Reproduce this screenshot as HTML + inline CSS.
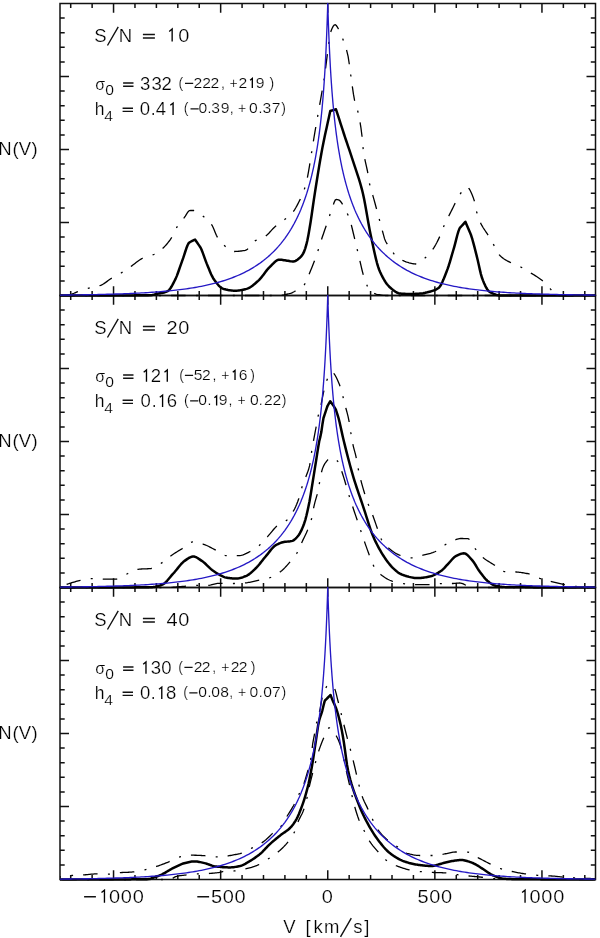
<!DOCTYPE html>
<html><head><meta charset="utf-8"><style>
html,body{margin:0;padding:0;background:#fff;width:600px;height:938px;overflow:hidden}
svg{display:block;will-change:transform}
text{font-family:"Liberation Sans",sans-serif;fill:#000;text-anchor:middle;stroke:#fff;stroke-width:0.2px;paint-order:fill}
</style></head><body>
<svg width="600" height="938" viewBox="0 0 600 938">

<rect x="60.0" y="3.5" width="535.5" height="292.0" fill="none" stroke="#111" stroke-width="1.5"/>
<path d="M70.71,3.5 v4.6 M70.71,295.5 v-4.6 M92.13,3.5 v4.6 M92.13,295.5 v-4.6 M113.55,3.5 v9.2 M113.55,295.5 v-9.2 M134.97,3.5 v4.6 M134.97,295.5 v-4.6 M156.39,3.5 v4.6 M156.39,295.5 v-4.6 M177.81,3.5 v4.6 M177.81,295.5 v-4.6 M199.23,3.5 v4.6 M199.23,295.5 v-4.6 M220.65,3.5 v9.2 M220.65,295.5 v-9.2 M242.07,3.5 v4.6 M242.07,295.5 v-4.6 M263.49,3.5 v4.6 M263.49,295.5 v-4.6 M284.91,3.5 v4.6 M284.91,295.5 v-4.6 M306.33,3.5 v4.6 M306.33,295.5 v-4.6 M327.75,3.5 v9.2 M327.75,295.5 v-9.2 M349.17,3.5 v4.6 M349.17,295.5 v-4.6 M370.59,3.5 v4.6 M370.59,295.5 v-4.6 M392.01,3.5 v4.6 M392.01,295.5 v-4.6 M413.43,3.5 v4.6 M413.43,295.5 v-4.6 M434.85,3.5 v9.2 M434.85,295.5 v-9.2 M456.27,3.5 v4.6 M456.27,295.5 v-4.6 M477.69,3.5 v4.6 M477.69,295.5 v-4.6 M499.11,3.5 v4.6 M499.11,295.5 v-4.6 M520.53,3.5 v4.6 M520.53,295.5 v-4.6 M541.95,3.5 v9.2 M541.95,295.5 v-9.2 M563.37,3.5 v4.6 M563.37,295.5 v-4.6 M584.79,3.5 v4.6 M584.79,295.5 v-4.6 M60.0,280.90 h4.7 M595.5,280.90 h-4.7 M60.0,266.30 h4.7 M595.5,266.30 h-4.7 M60.0,251.70 h4.7 M595.5,251.70 h-4.7 M60.0,237.10 h4.7 M595.5,237.10 h-4.7 M60.0,222.50 h9 M595.5,222.50 h-9 M60.0,207.90 h4.7 M595.5,207.90 h-4.7 M60.0,193.30 h4.7 M595.5,193.30 h-4.7 M60.0,178.70 h4.7 M595.5,178.70 h-4.7 M60.0,164.10 h4.7 M595.5,164.10 h-4.7 M60.0,149.50 h9 M595.5,149.50 h-9 M60.0,134.90 h4.7 M595.5,134.90 h-4.7 M60.0,120.30 h4.7 M595.5,120.30 h-4.7 M60.0,105.70 h4.7 M595.5,105.70 h-4.7 M60.0,91.10 h4.7 M595.5,91.10 h-4.7 M60.0,76.50 h9 M595.5,76.50 h-9 M60.0,61.90 h4.7 M595.5,61.90 h-4.7 M60.0,47.30 h4.7 M595.5,47.30 h-4.7 M60.0,32.70 h4.7 M595.5,32.70 h-4.7 M60.0,18.10 h4.7 M595.5,18.10 h-4.7" stroke="#111" stroke-width="1.5" fill="none"/>
<rect x="60.0" y="295.5" width="535.5" height="292.0" fill="none" stroke="#111" stroke-width="1.5"/>
<path d="M70.71,295.5 v4.6 M70.71,587.5 v-4.6 M92.13,295.5 v4.6 M92.13,587.5 v-4.6 M113.55,295.5 v9.2 M113.55,587.5 v-9.2 M134.97,295.5 v4.6 M134.97,587.5 v-4.6 M156.39,295.5 v4.6 M156.39,587.5 v-4.6 M177.81,295.5 v4.6 M177.81,587.5 v-4.6 M199.23,295.5 v4.6 M199.23,587.5 v-4.6 M220.65,295.5 v9.2 M220.65,587.5 v-9.2 M242.07,295.5 v4.6 M242.07,587.5 v-4.6 M263.49,295.5 v4.6 M263.49,587.5 v-4.6 M284.91,295.5 v4.6 M284.91,587.5 v-4.6 M306.33,295.5 v4.6 M306.33,587.5 v-4.6 M327.75,295.5 v9.2 M327.75,587.5 v-9.2 M349.17,295.5 v4.6 M349.17,587.5 v-4.6 M370.59,295.5 v4.6 M370.59,587.5 v-4.6 M392.01,295.5 v4.6 M392.01,587.5 v-4.6 M413.43,295.5 v4.6 M413.43,587.5 v-4.6 M434.85,295.5 v9.2 M434.85,587.5 v-9.2 M456.27,295.5 v4.6 M456.27,587.5 v-4.6 M477.69,295.5 v4.6 M477.69,587.5 v-4.6 M499.11,295.5 v4.6 M499.11,587.5 v-4.6 M520.53,295.5 v4.6 M520.53,587.5 v-4.6 M541.95,295.5 v9.2 M541.95,587.5 v-9.2 M563.37,295.5 v4.6 M563.37,587.5 v-4.6 M584.79,295.5 v4.6 M584.79,587.5 v-4.6 M60.0,572.90 h4.7 M595.5,572.90 h-4.7 M60.0,558.30 h4.7 M595.5,558.30 h-4.7 M60.0,543.70 h4.7 M595.5,543.70 h-4.7 M60.0,529.10 h4.7 M595.5,529.10 h-4.7 M60.0,514.50 h9 M595.5,514.50 h-9 M60.0,499.90 h4.7 M595.5,499.90 h-4.7 M60.0,485.30 h4.7 M595.5,485.30 h-4.7 M60.0,470.70 h4.7 M595.5,470.70 h-4.7 M60.0,456.10 h4.7 M595.5,456.10 h-4.7 M60.0,441.50 h9 M595.5,441.50 h-9 M60.0,426.90 h4.7 M595.5,426.90 h-4.7 M60.0,412.30 h4.7 M595.5,412.30 h-4.7 M60.0,397.70 h4.7 M595.5,397.70 h-4.7 M60.0,383.10 h4.7 M595.5,383.10 h-4.7 M60.0,368.50 h9 M595.5,368.50 h-9 M60.0,353.90 h4.7 M595.5,353.90 h-4.7 M60.0,339.30 h4.7 M595.5,339.30 h-4.7 M60.0,324.70 h4.7 M595.5,324.70 h-4.7 M60.0,310.10 h4.7 M595.5,310.10 h-4.7" stroke="#111" stroke-width="1.5" fill="none"/>
<rect x="60.0" y="587.5" width="535.5" height="292.0" fill="none" stroke="#111" stroke-width="1.5"/>
<path d="M70.71,587.5 v4.6 M70.71,879.5 v-4.6 M92.13,587.5 v4.6 M92.13,879.5 v-4.6 M113.55,587.5 v9.2 M113.55,879.5 v-9.2 M134.97,587.5 v4.6 M134.97,879.5 v-4.6 M156.39,587.5 v4.6 M156.39,879.5 v-4.6 M177.81,587.5 v4.6 M177.81,879.5 v-4.6 M199.23,587.5 v4.6 M199.23,879.5 v-4.6 M220.65,587.5 v9.2 M220.65,879.5 v-9.2 M242.07,587.5 v4.6 M242.07,879.5 v-4.6 M263.49,587.5 v4.6 M263.49,879.5 v-4.6 M284.91,587.5 v4.6 M284.91,879.5 v-4.6 M306.33,587.5 v4.6 M306.33,879.5 v-4.6 M327.75,587.5 v9.2 M327.75,879.5 v-9.2 M349.17,587.5 v4.6 M349.17,879.5 v-4.6 M370.59,587.5 v4.6 M370.59,879.5 v-4.6 M392.01,587.5 v4.6 M392.01,879.5 v-4.6 M413.43,587.5 v4.6 M413.43,879.5 v-4.6 M434.85,587.5 v9.2 M434.85,879.5 v-9.2 M456.27,587.5 v4.6 M456.27,879.5 v-4.6 M477.69,587.5 v4.6 M477.69,879.5 v-4.6 M499.11,587.5 v4.6 M499.11,879.5 v-4.6 M520.53,587.5 v4.6 M520.53,879.5 v-4.6 M541.95,587.5 v9.2 M541.95,879.5 v-9.2 M563.37,587.5 v4.6 M563.37,879.5 v-4.6 M584.79,587.5 v4.6 M584.79,879.5 v-4.6 M60.0,864.90 h4.7 M595.5,864.90 h-4.7 M60.0,850.30 h4.7 M595.5,850.30 h-4.7 M60.0,835.70 h4.7 M595.5,835.70 h-4.7 M60.0,821.10 h4.7 M595.5,821.10 h-4.7 M60.0,806.50 h9 M595.5,806.50 h-9 M60.0,791.90 h4.7 M595.5,791.90 h-4.7 M60.0,777.30 h4.7 M595.5,777.30 h-4.7 M60.0,762.70 h4.7 M595.5,762.70 h-4.7 M60.0,748.10 h4.7 M595.5,748.10 h-4.7 M60.0,733.50 h9 M595.5,733.50 h-9 M60.0,718.90 h4.7 M595.5,718.90 h-4.7 M60.0,704.30 h4.7 M595.5,704.30 h-4.7 M60.0,689.70 h4.7 M595.5,689.70 h-4.7 M60.0,675.10 h4.7 M595.5,675.10 h-4.7 M60.0,660.50 h9 M595.5,660.50 h-9 M60.0,645.90 h4.7 M595.5,645.90 h-4.7 M60.0,631.30 h4.7 M595.5,631.30 h-4.7 M60.0,616.70 h4.7 M595.5,616.70 h-4.7 M60.0,602.10 h4.7 M595.5,602.10 h-4.7" stroke="#111" stroke-width="1.5" fill="none"/>
<path d="M60.00,295.50 L61.07,295.48 L62.14,295.44 L63.21,295.37 L64.28,295.27 L65.36,295.16 L66.43,295.03 L67.50,294.88 L68.57,294.72 L69.64,294.56 L70.71,294.36 L71.78,294.07 L72.85,293.69 L73.92,293.26 L74.99,292.79 L76.06,292.32 L77.14,291.86 L78.21,291.44 L79.28,291.07 L80.35,290.72 L81.42,290.37 L82.49,290.03 L83.56,289.70 L84.63,289.37 L85.70,289.05 L86.78,288.74 L87.85,288.44 L88.92,288.15 L89.99,287.88 L91.06,287.63 L92.13,287.40 L93.20,287.19 L94.27,286.99 L95.34,286.78 L96.41,286.56 L97.48,286.31 L98.56,286.04 L99.63,285.72 L100.70,285.34 L101.77,284.86 L102.84,284.28 L103.91,283.62 L104.98,282.91 L106.05,282.15 L107.12,281.37 L108.19,280.59 L109.27,279.81 L110.34,279.06 L111.41,278.36 L112.48,277.72 L113.55,277.11 L114.62,276.51 L115.69,275.93 L116.76,275.35 L117.83,274.77 L118.91,274.18 L119.98,273.59 L121.05,272.97 L122.12,272.33 L123.19,271.66 L124.26,270.97 L125.33,270.27 L126.40,269.55 L127.47,268.82 L128.54,268.09 L129.62,267.35 L130.69,266.61 L131.76,265.87 L132.83,265.08 L133.90,264.26 L134.97,263.43 L136.04,262.59 L137.11,261.76 L138.18,260.95 L139.25,260.18 L140.32,259.47 L141.40,258.82 L142.47,258.25 L143.54,257.77 L144.61,257.36 L145.68,257.00 L146.75,256.69 L147.82,256.39 L148.89,256.10 L149.96,255.81 L151.03,255.50 L152.11,255.15 L153.18,254.75 L154.25,254.29 L155.32,253.75 L156.39,253.14 L157.46,252.47 L158.53,251.73 L159.60,250.94 L160.67,250.10 L161.75,249.22 L162.82,248.28 L163.89,247.26 L164.96,246.17 L166.03,244.99 L167.10,243.74 L168.17,242.41 L169.24,241.00 L170.31,239.51 L171.38,237.94 L172.46,236.25 L173.53,234.15 L174.60,231.81 L175.67,229.49 L176.74,227.43 L177.81,225.77 L178.88,224.27 L179.95,222.90 L181.02,221.59 L182.09,220.32 L183.16,219.04 L184.24,217.69 L185.31,216.07 L186.38,214.30 L187.45,212.62 L188.52,211.30 L189.59,210.57 L190.66,210.50 L191.73,210.50 L192.80,210.50 L193.88,210.50 L194.95,210.60 L196.02,210.93 L197.09,211.46 L198.16,212.15 L199.23,212.95 L200.30,213.82 L201.37,214.73 L202.44,215.64 L203.51,216.51 L204.58,217.35 L205.66,218.23 L206.73,219.15 L207.80,220.15 L208.87,221.23 L209.94,222.43 L211.01,223.76 L212.08,225.29 L213.15,227.43 L214.22,230.04 L215.30,232.78 L216.37,235.34 L217.44,237.40 L218.51,239.00 L219.58,240.47 L220.65,241.82 L221.72,243.04 L222.79,244.15 L223.86,245.16 L224.93,246.06 L226.00,246.98 L227.08,247.90 L228.15,248.79 L229.22,249.61 L230.29,250.33 L231.36,250.90 L232.43,251.30 L233.50,251.49 L234.57,251.49 L235.64,251.47 L236.72,251.42 L237.79,251.35 L238.86,251.26 L239.93,251.15 L241.00,251.02 L242.07,250.88 L243.14,250.72 L244.21,250.54 L245.28,250.34 L246.35,249.99 L247.43,249.23 L248.50,248.17 L249.57,246.90 L250.64,245.51 L251.71,244.13 L252.78,242.83 L253.85,241.73 L254.92,240.92 L255.99,240.32 L257.06,239.81 L258.13,239.36 L259.21,238.95 L260.28,238.56 L261.35,238.17 L262.42,237.75 L263.49,237.28 L264.56,236.73 L265.63,236.08 L266.70,235.26 L267.77,234.28 L268.85,233.19 L269.92,232.02 L270.99,230.82 L272.06,229.63 L273.13,228.49 L274.20,227.44 L275.27,226.52 L276.34,225.66 L277.41,224.85 L278.48,224.06 L279.56,223.29 L280.63,222.53 L281.70,221.75 L282.77,220.96 L283.84,220.13 L284.91,219.29 L285.98,218.47 L287.05,217.66 L288.12,216.83 L289.19,215.95 L290.26,214.99 L291.34,213.94 L292.41,212.76 L293.48,211.38 L294.55,209.79 L295.62,208.03 L296.69,206.13 L297.76,204.11 L298.83,202.03 L299.90,199.89 L300.98,197.65 L302.05,195.26 L303.12,192.64 L304.19,189.74 L305.26,186.45 L306.33,182.35 L307.40,177.52 L308.47,171.89 L309.54,165.54 L310.61,158.79 L311.69,151.97 L312.76,145.15 L313.83,138.49 L314.90,132.11 L315.97,125.87 L317.04,119.73 L318.11,113.67 L319.18,107.63 L320.25,101.57 L321.32,95.46 L322.39,89.39 L323.47,83.33 L324.54,76.32 L325.61,68.19 L326.68,59.61 L327.75,51.07 L328.82,42.88 L329.89,35.80 L330.96,31.26 L332.03,28.55 L333.11,26.40 L334.18,25.05 L335.25,24.73 L336.32,25.55 L337.39,27.14 L338.46,29.05 L339.53,30.97 L340.60,33.29 L341.67,35.96 L342.74,38.82 L343.81,41.70 L344.89,44.70 L345.96,48.02 L347.03,51.87 L348.10,56.47 L349.17,63.27 L350.24,71.41 L351.31,79.01 L352.38,86.84 L353.45,94.20 L354.52,100.11 L355.60,104.24 L356.67,107.54 L357.74,111.04 L358.81,115.63 L359.88,121.18 L360.95,127.84 L362.02,136.28 L363.09,148.28 L364.16,155.59 L365.24,161.11 L366.31,165.87 L367.38,170.75 L368.45,176.70 L369.52,183.53 L370.59,188.35 L371.66,191.82 L372.73,195.09 L373.80,198.84 L374.87,202.74 L375.94,206.73 L377.02,210.78 L378.09,214.84 L379.16,218.87 L380.23,222.85 L381.30,226.80 L382.37,230.73 L383.44,234.66 L384.51,238.63 L385.58,241.27 L386.65,243.22 L387.73,244.84 L388.80,246.31 L389.87,247.80 L390.94,249.44 L392.01,251.11 L393.08,252.69 L394.15,254.10 L395.22,255.21 L396.29,256.15 L397.37,257.03 L398.44,257.83 L399.51,258.57 L400.58,259.24 L401.65,259.85 L402.72,260.41 L403.79,260.91 L404.86,261.36 L405.93,261.78 L407.00,262.16 L408.07,262.50 L409.15,262.80 L410.22,263.05 L411.29,263.29 L412.36,263.54 L413.43,263.75 L414.50,263.91 L415.57,263.99 L416.64,263.95 L417.71,263.65 L418.78,263.13 L419.86,262.43 L420.93,261.60 L422.00,260.68 L423.07,259.71 L424.14,258.75 L425.21,257.82 L426.28,256.86 L427.35,255.82 L428.42,254.70 L429.50,253.50 L430.57,252.22 L431.64,250.85 L432.71,249.41 L433.78,247.85 L434.85,246.13 L435.92,244.25 L436.99,242.24 L438.06,240.10 L439.13,237.87 L440.20,235.54 L441.28,232.87 L442.35,229.96 L443.42,227.10 L444.49,224.55 L445.56,222.29 L446.63,220.16 L447.70,218.07 L448.77,215.96 L449.84,213.85 L450.92,211.76 L451.99,209.63 L453.06,207.46 L454.13,205.28 L455.20,203.14 L456.27,201.06 L457.34,199.08 L458.41,197.10 L459.48,195.20 L460.55,193.49 L461.62,192.05 L462.70,190.59 L463.77,189.19 L464.84,188.01 L465.91,187.23 L466.98,187.01 L468.05,187.53 L469.12,188.73 L470.19,190.51 L471.26,192.74 L472.34,195.30 L473.41,198.10 L474.48,201.34 L475.55,206.57 L476.62,211.73 L477.69,215.32 L478.76,218.46 L479.83,221.20 L480.90,223.60 L481.97,225.68 L483.04,227.51 L484.12,229.18 L485.19,230.75 L486.26,232.30 L487.33,233.92 L488.40,235.67 L489.47,237.48 L490.54,239.31 L491.61,241.17 L492.68,243.04 L493.75,244.92 L494.83,246.93 L495.90,249.09 L496.97,251.23 L498.04,253.16 L499.11,254.68 L500.18,255.77 L501.25,256.74 L502.32,257.63 L503.39,258.44 L504.47,259.18 L505.54,259.86 L506.61,260.50 L507.68,261.09 L508.75,261.66 L509.82,262.20 L510.89,262.74 L511.96,263.28 L513.03,263.80 L514.10,264.28 L515.17,264.72 L516.25,265.14 L517.32,265.55 L518.39,265.97 L519.46,266.42 L520.53,266.92 L521.60,267.46 L522.67,268.04 L523.74,268.65 L524.81,269.28 L525.88,269.94 L526.96,270.60 L528.03,271.27 L529.10,271.94 L530.17,272.59 L531.24,273.24 L532.31,273.88 L533.38,274.53 L534.45,275.18 L535.52,275.84 L536.60,276.52 L537.67,277.22 L538.74,277.95 L539.81,278.71 L540.88,279.52 L541.95,280.36 L543.02,281.29 L544.09,282.32 L545.16,283.43 L546.23,284.59 L547.31,285.77 L548.38,286.94 L549.45,288.06 L550.52,289.11 L551.59,290.22 L552.66,291.39 L553.73,292.48 L554.80,293.38 L555.87,293.96 L556.94,294.27 L558.01,294.55 L559.09,294.80 L560.16,295.02 L561.23,295.20 L562.30,295.34 L563.37,295.44 L564.44,295.49 L565.51,295.50 L566.58,295.50 L567.65,295.50 L568.73,295.50 L569.80,295.50 L570.87,295.50 L571.94,295.50 L573.01,295.50 L574.08,295.50 L575.15,295.50 L576.22,295.50 L577.29,295.50 L578.36,295.50 L579.43,295.50 L580.51,295.50 L581.58,295.50 L582.65,295.50 L583.72,295.50 L584.79,295.50 L585.86,295.50 L586.93,295.50 L588.00,295.50 L589.07,295.50 L590.14,295.50 L591.22,295.50 L592.29,295.50 L593.36,295.50 L594.43,295.50 L595.50,295.50" fill="none" stroke="#000" stroke-width="1.3" stroke-dasharray="14.5 10.35 2 10.05" stroke-dashoffset="32.87" stroke-linecap="butt"/>
<path d="M60.00,295.50 L61.07,295.50 L62.14,295.50 L63.21,295.50 L64.28,295.50 L65.36,295.50 L66.43,295.50 L67.50,295.50 L68.57,295.50 L69.64,295.50 L70.71,295.50 L71.78,295.50 L72.85,295.50 L73.92,295.50 L74.99,295.50 L76.06,295.50 L77.14,295.50 L78.21,295.50 L79.28,295.50 L80.35,295.50 L81.42,295.50 L82.49,295.50 L83.56,295.50 L84.63,295.50 L85.70,295.50 L86.78,295.50 L87.85,295.50 L88.92,295.50 L89.99,295.50 L91.06,295.50 L92.13,295.50 L93.20,295.50 L94.27,295.50 L95.34,295.50 L96.41,295.50 L97.48,295.50 L98.56,295.50 L99.63,295.50 L100.70,295.50 L101.77,295.50 L102.84,295.50 L103.91,295.50 L104.98,295.50 L106.05,295.50 L107.12,295.50 L108.19,295.50 L109.27,295.50 L110.34,295.50 L111.41,295.50 L112.48,295.50 L113.55,295.50 L114.62,295.50 L115.69,295.50 L116.76,295.50 L117.83,295.50 L118.91,295.50 L119.98,295.50 L121.05,295.50 L122.12,295.50 L123.19,295.50 L124.26,295.50 L125.33,295.50 L126.40,295.50 L127.47,295.50 L128.54,295.50 L129.62,295.50 L130.69,295.50 L131.76,295.50 L132.83,295.50 L133.90,295.50 L134.97,295.50 L136.04,295.50 L137.11,295.50 L138.18,295.50 L139.25,295.50 L140.32,295.50 L141.40,295.50 L142.47,295.50 L143.54,295.50 L144.61,295.50 L145.68,295.50 L146.75,295.50 L147.82,295.50 L148.89,295.50 L149.96,295.50 L151.03,295.50 L152.11,295.50 L153.18,295.50 L154.25,295.50 L155.32,295.50 L156.39,295.50 L157.46,295.50 L158.53,295.50 L159.60,295.50 L160.67,295.50 L161.75,295.50 L162.82,295.50 L163.89,295.50 L164.96,295.50 L166.03,295.50 L167.10,295.50 L168.17,295.50 L169.24,295.50 L170.31,295.50 L171.38,295.50 L172.46,295.50 L173.53,295.50 L174.60,295.50 L175.67,295.50 L176.74,295.50 L177.81,295.50 L178.88,295.50 L179.95,295.50 L181.02,295.50 L182.09,295.50 L183.16,295.50 L184.24,295.50 L185.31,295.50 L186.38,295.50 L187.45,295.50 L188.52,295.50 L189.59,295.50 L190.66,295.50 L191.73,295.50 L192.80,295.50 L193.88,295.50 L194.95,295.50 L196.02,295.50 L197.09,295.50 L198.16,295.50 L199.23,295.50 L200.30,295.50 L201.37,295.50 L202.44,295.50 L203.51,295.50 L204.58,295.50 L205.66,295.50 L206.73,295.50 L207.80,295.50 L208.87,295.50 L209.94,295.50 L211.01,295.50 L212.08,295.50 L213.15,295.50 L214.22,295.50 L215.30,295.50 L216.37,295.50 L217.44,295.50 L218.51,295.50 L219.58,295.50 L220.65,295.50 L221.72,295.50 L222.79,295.50 L223.86,295.50 L224.93,295.50 L226.00,295.50 L227.08,295.50 L228.15,295.50 L229.22,295.50 L230.29,295.50 L231.36,295.50 L232.43,295.50 L233.50,295.50 L234.57,295.50 L235.64,295.50 L236.72,295.50 L237.79,295.50 L238.86,295.50 L239.93,295.50 L241.00,295.50 L242.07,295.50 L243.14,295.50 L244.21,295.50 L245.28,295.50 L246.35,295.50 L247.43,295.50 L248.50,295.50 L249.57,295.50 L250.64,295.50 L251.71,295.50 L252.78,295.50 L253.85,295.50 L254.92,295.50 L255.99,295.50 L257.06,295.50 L258.13,295.50 L259.21,295.50 L260.28,295.50 L261.35,295.50 L262.42,295.50 L263.49,295.50 L264.56,295.50 L265.63,295.50 L266.70,295.50 L267.77,295.50 L268.85,295.50 L269.92,295.50 L270.99,295.50 L272.06,295.49 L273.13,295.48 L274.20,295.46 L275.27,295.44 L276.34,295.41 L277.41,295.38 L278.48,295.35 L279.56,295.32 L280.63,295.27 L281.70,295.19 L282.77,295.06 L283.84,294.90 L284.91,294.71 L285.98,294.50 L287.05,294.25 L288.12,293.99 L289.19,293.72 L290.26,293.42 L291.34,293.05 L292.41,292.58 L293.48,292.04 L294.55,291.45 L295.62,290.82 L296.69,290.18 L297.76,289.56 L298.83,288.94 L299.90,288.30 L300.98,287.61 L302.05,286.83 L303.12,285.92 L304.19,284.85 L305.26,283.43 L306.33,281.32 L307.40,278.73 L308.47,275.92 L309.54,273.13 L310.61,270.53 L311.69,267.93 L312.76,265.28 L313.83,262.55 L314.90,259.72 L315.97,256.76 L317.04,253.59 L318.11,250.26 L319.18,246.85 L320.25,243.42 L321.32,240.06 L322.39,236.82 L323.47,233.68 L324.54,230.58 L325.61,227.51 L326.68,224.43 L327.75,221.32 L328.82,218.13 L329.89,214.74 L330.96,211.35 L332.03,208.22 L333.11,205.37 L334.18,202.35 L335.25,200.07 L336.32,199.51 L337.39,199.62 L338.46,199.85 L339.53,200.30 L340.60,201.51 L341.67,202.95 L342.74,204.69 L343.81,206.68 L344.89,208.78 L345.96,210.87 L347.03,213.01 L348.10,215.34 L349.17,217.96 L350.24,221.05 L351.31,224.91 L352.38,229.27 L353.45,233.77 L354.52,238.13 L355.60,242.59 L356.67,247.11 L357.74,251.60 L358.81,256.04 L359.88,260.70 L360.95,265.42 L362.02,269.98 L363.09,274.16 L364.16,277.76 L365.24,280.71 L366.31,283.54 L367.38,286.19 L368.45,288.53 L369.52,290.41 L370.59,291.69 L371.66,292.38 L372.73,292.93 L373.80,293.37 L374.87,293.74 L375.94,294.05 L377.02,294.30 L378.09,294.52 L379.16,294.72 L380.23,294.91 L381.30,295.08 L382.37,295.24 L383.44,295.36 L384.51,295.45 L385.58,295.50 L386.65,295.50 L387.73,295.50 L388.80,295.50 L389.87,295.50 L390.94,295.50 L392.01,295.50 L393.08,295.50 L394.15,295.50 L395.22,295.50 L396.29,295.50 L397.37,295.50 L398.44,295.50 L399.51,295.50 L400.58,295.50 L401.65,295.50 L402.72,295.50 L403.79,295.50 L404.86,295.50 L405.93,295.50 L407.00,295.50 L408.07,295.50 L409.15,295.50 L410.22,295.50 L411.29,295.50 L412.36,295.50 L413.43,295.50 L414.50,295.50 L415.57,295.50 L416.64,295.50 L417.71,295.50 L418.78,295.50 L419.86,295.50 L420.93,295.50 L422.00,295.50 L423.07,295.50 L424.14,295.50 L425.21,295.50 L426.28,295.50 L427.35,295.50 L428.42,295.50 L429.50,295.50 L430.57,295.50 L431.64,295.50 L432.71,295.50 L433.78,295.50 L434.85,295.50 L435.92,295.50 L436.99,295.50 L438.06,295.50 L439.13,295.50 L440.20,295.50 L441.28,295.50 L442.35,295.50 L443.42,295.50 L444.49,295.50 L445.56,295.50 L446.63,295.50 L447.70,295.50 L448.77,295.50 L449.84,295.50 L450.92,295.50 L451.99,295.50 L453.06,295.50 L454.13,295.50 L455.20,295.50 L456.27,295.50 L457.34,295.50 L458.41,295.50 L459.48,295.50 L460.55,295.50 L461.62,295.50 L462.70,295.50 L463.77,295.50 L464.84,295.50 L465.91,295.50 L466.98,295.50 L468.05,295.50 L469.12,295.50 L470.19,295.50 L471.26,295.50 L472.34,295.50 L473.41,295.50 L474.48,295.50 L475.55,295.50 L476.62,295.50 L477.69,295.50 L478.76,295.50 L479.83,295.50 L480.90,295.50 L481.97,295.50 L483.04,295.50 L484.12,295.50 L485.19,295.50 L486.26,295.50 L487.33,295.50 L488.40,295.50 L489.47,295.50 L490.54,295.50 L491.61,295.50 L492.68,295.50 L493.75,295.50 L494.83,295.50 L495.90,295.50 L496.97,295.50 L498.04,295.50 L499.11,295.50 L500.18,295.50 L501.25,295.50 L502.32,295.50 L503.39,295.50 L504.47,295.50 L505.54,295.50 L506.61,295.50 L507.68,295.50 L508.75,295.50 L509.82,295.50 L510.89,295.50 L511.96,295.50 L513.03,295.50 L514.10,295.50 L515.17,295.50 L516.25,295.50 L517.32,295.50 L518.39,295.50 L519.46,295.50 L520.53,295.50 L521.60,295.50 L522.67,295.50 L523.74,295.50 L524.81,295.50 L525.88,295.50 L526.96,295.50 L528.03,295.50 L529.10,295.50 L530.17,295.50 L531.24,295.50 L532.31,295.50 L533.38,295.50 L534.45,295.50 L535.52,295.50 L536.60,295.50 L537.67,295.50 L538.74,295.50 L539.81,295.50 L540.88,295.50 L541.95,295.50 L543.02,295.50 L544.09,295.50 L545.16,295.50 L546.23,295.50 L547.31,295.50 L548.38,295.50 L549.45,295.50 L550.52,295.50 L551.59,295.50 L552.66,295.50 L553.73,295.50 L554.80,295.50 L555.87,295.50 L556.94,295.50 L558.01,295.50 L559.09,295.50 L560.16,295.50 L561.23,295.50 L562.30,295.50 L563.37,295.50 L564.44,295.50 L565.51,295.50 L566.58,295.50 L567.65,295.50 L568.73,295.50 L569.80,295.50 L570.87,295.50 L571.94,295.50 L573.01,295.50 L574.08,295.50 L575.15,295.50 L576.22,295.50 L577.29,295.50 L578.36,295.50 L579.43,295.50 L580.51,295.50 L581.58,295.50 L582.65,295.50 L583.72,295.50 L584.79,295.50 L585.86,295.50 L586.93,295.50 L588.00,295.50 L589.07,295.50 L590.14,295.50 L591.22,295.50 L592.29,295.50 L593.36,295.50 L594.43,295.50 L595.50,295.50" fill="none" stroke="#000" stroke-width="1.3" stroke-dasharray="14.5 10.35 2 10.05" stroke-dashoffset="36.51" stroke-linecap="butt"/>
<path d="M60.00,295.50 L61.07,295.50 L62.14,295.50 L63.21,295.50 L64.28,295.50 L65.36,295.50 L66.43,295.50 L67.50,295.50 L68.57,295.50 L69.64,295.50 L70.71,295.50 L71.78,295.50 L72.85,295.50 L73.92,295.50 L74.99,295.50 L76.06,295.50 L77.14,295.50 L78.21,295.50 L79.28,295.50 L80.35,295.50 L81.42,295.50 L82.49,295.49 L83.56,295.49 L84.63,295.49 L85.70,295.49 L86.78,295.49 L87.85,295.49 L88.92,295.49 L89.99,295.49 L91.06,295.49 L92.13,295.49 L93.20,295.49 L94.27,295.48 L95.34,295.48 L96.41,295.48 L97.48,295.48 L98.56,295.48 L99.63,295.48 L100.70,295.48 L101.77,295.47 L102.84,295.47 L103.91,295.47 L104.98,295.47 L106.05,295.47 L107.12,295.46 L108.19,295.46 L109.27,295.46 L110.34,295.46 L111.41,295.46 L112.48,295.45 L113.55,295.45 L114.62,295.45 L115.69,295.44 L116.76,295.44 L117.83,295.44 L118.91,295.44 L119.98,295.43 L121.05,295.43 L122.12,295.43 L123.19,295.42 L124.26,295.42 L125.33,295.42 L126.40,295.41 L127.47,295.41 L128.54,295.40 L129.62,295.40 L130.69,295.40 L131.76,295.39 L132.83,295.39 L133.90,295.38 L134.97,295.38 L136.04,295.37 L137.11,295.37 L138.18,295.36 L139.25,295.36 L140.32,295.35 L141.40,295.35 L142.47,295.34 L143.54,295.34 L144.61,295.33 L145.68,295.33 L146.75,295.32 L147.82,295.31 L148.89,295.31 L149.96,295.30 L151.03,295.24 L152.11,295.09 L153.18,294.87 L154.25,294.60 L155.32,294.31 L156.39,294.02 L157.46,293.76 L158.53,293.53 L159.60,293.32 L160.67,293.13 L161.75,292.92 L162.82,292.71 L163.89,292.46 L164.96,292.17 L166.03,291.83 L167.10,291.42 L168.17,290.85 L169.24,289.85 L170.31,288.47 L171.38,286.79 L172.46,284.89 L173.53,282.86 L174.60,280.78 L175.67,278.63 L176.74,276.12 L177.81,273.30 L178.88,270.29 L179.95,267.18 L181.02,264.08 L182.09,261.08 L183.16,258.15 L184.24,254.89 L185.31,251.50 L186.38,248.27 L187.45,245.47 L188.52,243.38 L189.25,242.50 L189.59,242.32 L190.66,241.76 L191.73,241.20 L192.80,240.65 L193.88,240.09 L194.95,239.53 L195.00,239.50 L196.02,240.98 L197.09,242.54 L198.16,244.09 L199.23,245.65 L200.30,247.21 L200.50,247.50 L201.37,249.29 L202.44,251.91 L203.51,254.82 L204.58,257.85 L205.66,260.85 L206.73,263.64 L207.80,266.22 L208.87,268.83 L209.94,271.43 L211.01,273.91 L212.08,276.19 L213.15,278.19 L214.22,279.81 L215.30,281.28 L216.37,282.70 L217.44,284.05 L218.51,285.28 L219.58,286.38 L220.65,287.33 L221.72,288.08 L222.79,288.63 L223.86,288.96 L224.93,289.25 L226.00,289.52 L227.08,289.76 L228.15,289.99 L229.22,290.18 L230.29,290.35 L231.36,290.49 L232.43,290.59 L233.50,290.66 L234.57,290.70 L235.64,290.69 L236.72,290.65 L237.79,290.56 L238.86,290.44 L239.93,290.29 L241.00,290.11 L242.07,289.90 L243.14,289.67 L244.21,289.43 L245.28,289.17 L246.35,288.89 L247.43,288.58 L248.50,288.15 L249.57,287.60 L250.64,286.96 L251.71,286.23 L252.78,285.43 L253.85,284.57 L254.92,283.67 L255.99,282.74 L257.06,281.80 L258.13,280.85 L259.21,279.84 L260.28,278.69 L261.35,277.41 L262.42,276.05 L263.49,274.64 L264.56,273.20 L265.63,271.77 L266.70,270.38 L267.77,269.06 L268.85,267.85 L269.92,266.78 L270.99,265.76 L272.06,264.68 L273.13,263.59 L274.20,262.55 L275.27,261.60 L276.34,260.79 L277.41,260.17 L278.48,259.79 L279.56,259.70 L280.63,259.75 L281.70,259.86 L282.77,260.01 L283.84,260.18 L284.91,260.35 L285.98,260.50 L287.05,260.65 L288.12,260.84 L289.19,261.04 L290.26,261.22 L291.34,261.37 L292.41,261.47 L293.48,261.50 L294.55,261.29 L295.62,260.83 L296.69,260.18 L297.76,259.41 L298.83,258.58 L299.90,257.71 L300.98,256.62 L302.05,255.27 L303.12,253.61 L304.19,251.41 L305.26,248.36 L306.33,244.68 L307.40,240.31 L308.47,234.75 L309.54,228.51 L310.61,222.00 L311.69,214.79 L312.76,207.24 L313.83,199.81 L314.90,192.86 L315.97,186.02 L317.04,179.25 L318.11,172.60 L319.18,166.10 L320.25,159.79 L321.32,153.71 L322.39,147.89 L323.47,142.43 L324.54,137.22 L325.00,135.00 L325.61,132.25 L326.68,127.40 L327.75,122.55 L328.82,117.70 L329.89,112.85 L330.30,111.00 L330.96,110.80 L332.03,110.48 L333.11,110.16 L334.18,109.84 L335.25,109.52 L336.00,109.30 L336.32,110.28 L337.39,113.60 L338.46,116.92 L339.53,120.23 L340.60,123.55 L341.67,126.87 L342.74,130.18 L343.81,133.50 L344.30,135.00 L344.89,136.78 L345.96,139.98 L347.03,143.16 L348.10,146.31 L349.17,149.46 L350.24,152.62 L351.31,155.81 L352.38,159.03 L353.45,162.31 L354.52,165.62 L355.60,168.87 L356.67,172.08 L357.74,175.31 L358.81,178.64 L359.88,182.12 L360.95,185.82 L362.02,189.81 L363.09,194.22 L364.16,199.32 L365.24,204.98 L366.31,210.99 L367.38,217.16 L368.45,223.28 L369.52,229.15 L370.59,234.58 L371.66,239.54 L372.73,244.52 L373.80,249.48 L374.87,254.30 L375.94,258.85 L377.02,263.03 L378.09,266.71 L379.16,269.77 L380.23,272.25 L381.30,274.55 L382.37,276.68 L383.44,278.67 L384.51,280.49 L385.58,282.16 L386.65,283.68 L387.73,285.04 L388.80,286.25 L389.87,287.30 L390.94,288.24 L392.01,289.15 L393.08,290.02 L394.15,290.84 L395.22,291.58 L396.29,292.23 L397.37,292.77 L398.44,293.18 L399.51,293.44 L400.58,293.55 L401.65,293.64 L402.72,293.72 L403.79,293.80 L404.86,293.86 L405.93,293.91 L407.00,293.95 L408.07,293.98 L409.15,294.00 L410.22,294.00 L411.29,293.99 L412.36,293.97 L413.43,293.94 L414.50,293.90 L415.57,293.86 L416.64,293.80 L417.71,293.74 L418.78,293.68 L419.86,293.61 L420.93,293.52 L422.00,293.40 L423.07,293.24 L424.14,293.05 L425.21,292.84 L426.28,292.59 L427.35,292.33 L428.42,292.04 L429.50,291.74 L430.57,291.43 L431.64,291.11 L432.71,290.78 L433.78,290.42 L434.85,290.02 L435.92,289.54 L436.99,288.98 L438.06,288.31 L439.13,287.44 L440.20,286.06 L441.28,284.25 L442.35,282.06 L443.42,279.61 L444.49,276.96 L445.56,274.21 L446.63,271.44 L447.70,268.63 L448.77,265.48 L449.84,262.04 L450.92,258.42 L451.99,254.71 L453.06,251.00 L454.13,247.37 L455.20,243.43 L456.27,239.18 L457.34,235.02 L458.41,231.36 L459.48,228.59 L459.80,228.00 L460.55,227.17 L461.62,225.98 L462.70,224.79 L463.77,223.61 L464.84,222.42 L465.40,221.80 L465.91,223.00 L466.98,225.52 L468.05,228.05 L469.12,230.57 L470.19,233.10 L471.00,235.00 L471.26,235.77 L472.34,239.22 L473.41,243.07 L474.48,247.17 L475.55,251.39 L476.62,255.60 L477.69,259.96 L478.76,264.76 L479.83,269.61 L480.90,274.09 L481.97,277.82 L483.04,280.62 L484.12,283.20 L485.19,285.59 L486.26,287.72 L487.33,289.51 L488.40,290.89 L489.47,291.78 L490.54,292.38 L491.61,292.93 L492.68,293.43 L493.75,293.89 L494.83,294.29 L495.90,294.64 L496.97,294.93 L498.04,295.15 L499.11,295.30 L500.18,295.39 L501.25,295.40 L502.32,295.40 L503.39,295.41 L504.47,295.41 L505.54,295.41 L506.61,295.42 L507.68,295.42 L508.75,295.42 L509.82,295.42 L510.89,295.43 L511.96,295.43 L513.03,295.43 L514.10,295.43 L515.17,295.44 L516.25,295.44 L517.32,295.44 L518.39,295.44 L519.46,295.44 L520.53,295.45 L521.60,295.45 L522.67,295.45 L523.74,295.45 L524.81,295.45 L525.88,295.46 L526.96,295.46 L528.03,295.46 L529.10,295.46 L530.17,295.46 L531.24,295.46 L532.31,295.47 L533.38,295.47 L534.45,295.47 L535.52,295.47 L536.60,295.47 L537.67,295.47 L538.74,295.47 L539.81,295.48 L540.88,295.48 L541.95,295.48 L543.02,295.48 L544.09,295.48 L545.16,295.48 L546.23,295.48 L547.31,295.48 L548.38,295.48 L549.45,295.48 L550.52,295.49 L551.59,295.49 L552.66,295.49 L553.73,295.49 L554.80,295.49 L555.87,295.49 L556.94,295.49 L558.01,295.49 L559.09,295.49 L560.16,295.49 L561.23,295.49 L562.30,295.49 L563.37,295.49 L564.44,295.49 L565.51,295.49 L566.58,295.50 L567.65,295.50 L568.73,295.50 L569.80,295.50 L570.87,295.50 L571.94,295.50 L573.01,295.50 L574.08,295.50 L575.15,295.50 L576.22,295.50 L577.29,295.50 L578.36,295.50 L579.43,295.50 L580.51,295.50 L581.58,295.50 L582.65,295.50 L583.72,295.50 L584.79,295.50 L585.86,295.50 L586.93,295.50 L588.00,295.50 L589.07,295.50 L590.14,295.50 L591.22,295.50 L592.29,295.50 L593.36,295.50 L594.43,295.50 L595.50,295.50" fill="none" stroke="#000" stroke-width="2.5" stroke-linejoin="round"/>
<path d="M60.00,295.08 L62.14,295.05 L64.28,295.03 L66.43,295.01 L68.57,294.99 L70.71,294.96 L72.85,294.93 L74.99,294.91 L77.14,294.88 L79.28,294.85 L81.42,294.82 L83.56,294.78 L85.70,294.75 L87.85,294.71 L89.99,294.67 L92.13,294.63 L94.27,294.59 L96.41,294.55 L98.56,294.50 L100.70,294.45 L102.84,294.40 L104.98,294.35 L107.12,294.29 L109.27,294.23 L111.41,294.17 L113.55,294.11 L115.69,294.04 L117.83,293.97 L119.98,293.90 L122.12,293.82 L124.26,293.74 L126.40,293.66 L128.54,293.57 L130.69,293.48 L132.83,293.38 L134.97,293.28 L137.11,293.18 L139.25,293.07 L141.40,292.95 L143.54,292.83 L145.68,292.71 L147.82,292.57 L149.96,292.43 L152.11,292.29 L154.25,292.14 L156.39,291.98 L158.53,291.81 L160.67,291.64 L162.82,291.46 L164.96,291.27 L167.10,291.07 L169.24,290.86 L171.38,290.64 L173.53,290.42 L175.67,290.18 L177.81,289.93 L179.95,289.67 L182.09,289.39 L184.24,289.11 L186.38,288.81 L188.52,288.50 L190.66,288.17 L192.80,287.83 L194.95,287.47 L197.09,287.10 L199.23,286.70 L201.37,286.29 L203.51,285.86 L205.66,285.42 L207.80,284.95 L209.94,284.45 L212.08,283.94 L214.22,283.40 L216.37,282.84 L218.51,282.24 L220.65,281.63 L222.79,280.98 L224.93,280.30 L227.08,279.59 L229.22,278.85 L231.36,278.07 L233.50,277.25 L235.64,276.39 L237.79,275.50 L239.93,274.56 L242.07,273.57 L244.21,272.53 L246.35,271.45 L248.50,270.31 L250.64,269.11 L252.78,267.85 L254.92,266.53 L257.06,265.14 L259.21,263.68 L261.35,262.14 L263.49,260.52 L265.63,258.82 L267.77,257.02 L269.92,255.12 L272.06,253.11 L274.20,250.99 L276.34,248.75 L278.48,246.37 L280.63,243.84 L282.77,241.16 L284.91,238.31 L285.12,238.01 L285.34,237.72 L285.55,237.42 L285.77,237.11 L285.98,236.81 L286.20,236.51 L286.41,236.20 L286.62,235.89 L286.84,235.58 L287.05,235.27 L287.27,234.95 L287.48,234.63 L287.69,234.31 L287.91,233.99 L288.12,233.67 L288.34,233.34 L288.55,233.01 L288.77,232.68 L288.98,232.35 L289.19,232.01 L289.41,231.68 L289.62,231.34 L289.84,230.99 L290.05,230.65 L290.26,230.30 L290.48,229.95 L290.69,229.60 L290.91,229.25 L291.12,228.89 L291.34,228.53 L291.55,228.17 L291.76,227.80 L291.98,227.44 L292.19,227.07 L292.41,226.69 L292.62,226.32 L292.84,225.94 L293.05,225.56 L293.26,225.18 L293.48,224.79 L293.69,224.40 L293.91,224.01 L294.12,223.61 L294.33,223.22 L294.55,222.81 L294.76,222.41 L294.98,222.00 L295.19,221.59 L295.41,221.18 L295.62,220.76 L295.83,220.34 L296.05,219.92 L296.26,219.49 L296.48,219.06 L296.69,218.63 L296.91,218.19 L297.12,217.75 L297.33,217.31 L297.55,216.86 L297.76,216.41 L297.98,215.95 L298.19,215.49 L298.40,215.03 L298.62,214.56 L298.83,214.09 L299.05,213.62 L299.26,213.14 L299.48,212.66 L299.69,212.17 L299.90,211.68 L300.12,211.18 L300.33,210.68 L300.55,210.18 L300.76,209.67 L300.98,209.16 L301.19,208.64 L301.40,208.12 L301.62,207.59 L301.83,207.06 L302.05,206.52 L302.26,205.98 L302.47,205.43 L302.69,204.88 L302.90,204.32 L303.12,203.76 L303.33,203.19 L303.55,202.62 L303.76,202.04 L303.97,201.45 L304.19,200.86 L304.40,200.27 L304.62,199.66 L304.83,199.05 L305.04,198.44 L305.26,197.82 L305.47,197.19 L305.69,196.56 L305.90,195.92 L306.12,195.27 L306.33,194.62 L306.54,193.95 L306.76,193.29 L306.97,192.61 L307.19,191.93 L307.40,191.24 L307.62,190.54 L307.83,189.83 L308.04,189.12 L308.26,188.39 L308.47,187.66 L308.69,186.92 L308.90,186.17 L309.11,185.42 L309.33,184.65 L309.54,183.87 L309.76,183.09 L309.97,182.29 L310.19,181.49 L310.40,180.67 L310.61,179.85 L310.83,179.01 L311.04,178.16 L311.26,177.31 L311.47,176.44 L311.69,175.55 L311.90,174.66 L312.11,173.75 L312.33,172.84 L312.54,171.90 L312.76,170.96 L312.97,170.00 L313.18,169.03 L313.40,168.04 L313.61,167.04 L313.83,166.02 L314.04,164.99 L314.26,163.94 L314.47,162.88 L314.68,161.80 L314.90,160.70 L315.11,159.58 L315.33,158.44 L315.54,157.29 L315.75,156.12 L315.97,154.92 L316.18,153.71 L316.40,152.47 L316.61,151.21 L316.83,149.93 L317.04,148.62 L317.25,147.29 L317.47,145.93 L317.68,144.55 L317.90,143.14 L318.11,141.70 L318.33,140.23 L318.54,138.73 L318.75,137.20 L318.97,135.64 L319.18,134.04 L319.40,132.41 L319.61,130.74 L319.82,129.03 L320.04,127.28 L320.25,125.49 L320.47,123.66 L320.68,121.78 L320.90,119.85 L321.11,117.87 L321.32,115.84 L321.54,113.75 L321.75,111.60 L321.97,109.40 L322.18,107.12 L322.39,104.79 L322.61,102.38 L322.82,99.89 L323.04,97.32 L323.25,94.67 L323.47,91.93 L323.68,89.10 L323.89,86.16 L324.11,83.12 L324.32,79.96 L324.54,76.68 L324.75,73.26 L324.97,69.71 L325.18,66.00 L325.39,62.12 L325.61,58.07 L325.82,53.83 L326.04,49.38 L326.25,44.70 L326.46,39.78 L326.68,34.58 L326.89,29.08 L327.11,23.25 L327.32,17.07 L327.54,10.49 L327.75,3.50 L327.96,10.49 L328.18,17.07 L328.39,23.25 L328.61,29.08 L328.82,34.58 L329.04,39.78 L329.25,44.70 L329.46,49.38 L329.68,53.83 L329.89,58.07 L330.11,62.12 L330.32,66.00 L330.53,69.71 L330.75,73.26 L330.96,76.68 L331.18,79.96 L331.39,83.12 L331.61,86.16 L331.82,89.10 L332.03,91.93 L332.25,94.67 L332.46,97.32 L332.68,99.89 L332.89,102.38 L333.11,104.79 L333.32,107.12 L333.53,109.40 L333.75,111.60 L333.96,113.75 L334.18,115.84 L334.39,117.87 L334.60,119.85 L334.82,121.78 L335.03,123.66 L335.25,125.49 L335.46,127.28 L335.68,129.03 L335.89,130.74 L336.10,132.41 L336.32,134.04 L336.53,135.64 L336.75,137.20 L336.96,138.73 L337.17,140.23 L337.39,141.70 L337.60,143.14 L337.82,144.55 L338.03,145.93 L338.25,147.29 L338.46,148.62 L338.67,149.93 L338.89,151.21 L339.10,152.47 L339.32,153.71 L339.53,154.92 L339.75,156.12 L339.96,157.29 L340.17,158.44 L340.39,159.58 L340.60,160.70 L340.82,161.80 L341.03,162.88 L341.24,163.94 L341.46,164.99 L341.67,166.02 L341.89,167.04 L342.10,168.04 L342.32,169.03 L342.53,170.00 L342.74,170.96 L342.96,171.90 L343.17,172.84 L343.39,173.75 L343.60,174.66 L343.81,175.55 L344.03,176.44 L344.24,177.31 L344.46,178.16 L344.67,179.01 L344.89,179.85 L345.10,180.67 L345.31,181.49 L345.53,182.29 L345.74,183.09 L345.96,183.87 L346.17,184.65 L346.39,185.42 L346.60,186.17 L346.81,186.92 L347.03,187.66 L347.24,188.39 L347.46,189.12 L347.67,189.83 L347.88,190.54 L348.10,191.24 L348.31,191.93 L348.53,192.61 L348.74,193.29 L348.96,193.95 L349.17,194.62 L349.38,195.27 L349.60,195.92 L349.81,196.56 L350.03,197.19 L350.24,197.82 L350.46,198.44 L350.67,199.05 L350.88,199.66 L351.10,200.27 L351.31,200.86 L351.53,201.45 L351.74,202.04 L351.95,202.62 L352.17,203.19 L352.38,203.76 L352.60,204.32 L352.81,204.88 L353.03,205.43 L353.24,205.98 L353.45,206.52 L353.67,207.06 L353.88,207.59 L354.10,208.12 L354.31,208.64 L354.52,209.16 L354.74,209.67 L354.95,210.18 L355.17,210.68 L355.38,211.18 L355.60,211.68 L355.81,212.17 L356.02,212.66 L356.24,213.14 L356.45,213.62 L356.67,214.09 L356.88,214.56 L357.10,215.03 L357.31,215.49 L357.52,215.95 L357.74,216.41 L357.95,216.86 L358.17,217.31 L358.38,217.75 L358.59,218.19 L358.81,218.63 L359.02,219.06 L359.24,219.49 L359.45,219.92 L359.67,220.34 L359.88,220.76 L360.09,221.18 L360.31,221.59 L360.52,222.00 L360.74,222.41 L360.95,222.81 L361.17,223.22 L361.38,223.61 L361.59,224.01 L361.81,224.40 L362.02,224.79 L362.24,225.18 L362.45,225.56 L362.66,225.94 L362.88,226.32 L363.09,226.69 L363.31,227.07 L363.52,227.44 L363.74,227.80 L363.95,228.17 L364.16,228.53 L364.38,228.89 L364.59,229.25 L364.81,229.60 L365.02,229.95 L365.24,230.30 L365.45,230.65 L365.66,230.99 L365.88,231.34 L366.09,231.68 L366.31,232.01 L366.52,232.35 L366.73,232.68 L366.95,233.01 L367.16,233.34 L367.38,233.67 L367.59,233.99 L367.81,234.31 L368.02,234.63 L368.23,234.95 L368.45,235.27 L368.66,235.58 L368.88,235.89 L369.09,236.20 L369.30,236.51 L369.52,236.81 L369.73,237.11 L369.95,237.42 L370.16,237.72 L370.38,238.01 L370.59,238.31 L372.73,241.16 L374.87,243.84 L377.02,246.37 L379.16,248.75 L381.30,250.99 L383.44,253.11 L385.58,255.12 L387.73,257.02 L389.87,258.82 L392.01,260.52 L394.15,262.14 L396.29,263.68 L398.44,265.14 L400.58,266.53 L402.72,267.85 L404.86,269.11 L407.00,270.31 L409.15,271.45 L411.29,272.53 L413.43,273.57 L415.57,274.56 L417.71,275.50 L419.86,276.39 L422.00,277.25 L424.14,278.07 L426.28,278.85 L428.42,279.59 L430.57,280.30 L432.71,280.98 L434.85,281.63 L436.99,282.24 L439.13,282.84 L441.28,283.40 L443.42,283.94 L445.56,284.45 L447.70,284.95 L449.84,285.42 L451.99,285.86 L454.13,286.29 L456.27,286.70 L458.41,287.10 L460.55,287.47 L462.70,287.83 L464.84,288.17 L466.98,288.50 L469.12,288.81 L471.26,289.11 L473.41,289.39 L475.55,289.67 L477.69,289.93 L479.83,290.18 L481.97,290.42 L484.12,290.64 L486.26,290.86 L488.40,291.07 L490.54,291.27 L492.68,291.46 L494.83,291.64 L496.97,291.81 L499.11,291.98 L501.25,292.14 L503.39,292.29 L505.54,292.43 L507.68,292.57 L509.82,292.71 L511.96,292.83 L514.10,292.95 L516.25,293.07 L518.39,293.18 L520.53,293.28 L522.67,293.38 L524.81,293.48 L526.96,293.57 L529.10,293.66 L531.24,293.74 L533.38,293.82 L535.52,293.90 L537.67,293.97 L539.81,294.04 L541.95,294.11 L544.09,294.17 L546.23,294.23 L548.38,294.29 L550.52,294.35 L552.66,294.40 L554.80,294.45 L556.94,294.50 L559.09,294.55 L561.23,294.59 L563.37,294.63 L565.51,294.67 L567.65,294.71 L569.80,294.75 L571.94,294.78 L574.08,294.82 L576.22,294.85 L578.36,294.88 L580.51,294.91 L582.65,294.93 L584.79,294.96 L586.93,294.99 L589.07,295.01 L591.22,295.03 L593.36,295.05 L595.50,295.08" fill="none" stroke="#2418c4" stroke-width="1.35" stroke-linejoin="round"/>
<path d="M60.00,587.50 L61.07,586.94 L62.14,586.40 L63.21,585.87 L64.28,585.38 L65.36,584.93 L66.43,584.53 L67.50,584.14 L68.57,583.76 L69.64,583.40 L70.71,583.05 L71.78,582.71 L72.85,582.39 L73.92,582.08 L74.99,581.78 L76.06,581.49 L77.14,581.22 L78.21,580.96 L79.28,580.72 L80.35,580.48 L81.42,580.23 L82.49,579.97 L83.56,579.72 L84.63,579.48 L85.70,579.25 L86.78,579.04 L87.85,578.87 L88.92,578.73 L89.99,578.64 L91.06,578.60 L92.13,578.61 L93.20,578.64 L94.27,578.69 L95.34,578.75 L96.41,578.82 L97.48,578.89 L98.56,578.97 L99.63,579.04 L100.70,579.10 L101.77,579.15 L102.84,579.19 L103.91,579.20 L104.98,579.20 L106.05,579.20 L107.12,579.20 L108.19,579.20 L109.27,579.20 L110.34,579.20 L111.41,579.20 L112.48,579.20 L113.55,579.20 L114.62,579.20 L115.69,579.19 L116.76,579.06 L117.83,578.79 L118.91,578.40 L119.98,577.92 L121.05,577.37 L122.12,576.77 L123.19,576.14 L124.26,575.50 L125.33,574.87 L126.40,574.28 L127.47,573.74 L128.54,573.26 L129.62,572.74 L130.69,572.19 L131.76,571.63 L132.83,571.09 L133.90,570.58 L134.97,570.12 L136.04,569.73 L137.11,569.45 L138.18,569.28 L139.25,569.17 L140.32,569.08 L141.40,569.02 L142.47,568.96 L143.54,568.91 L144.61,568.87 L145.68,568.83 L146.75,568.79 L147.82,568.74 L148.89,568.68 L149.96,568.60 L151.03,568.51 L152.11,568.39 L153.18,568.15 L154.25,567.76 L155.32,567.24 L156.39,566.61 L157.46,565.91 L158.53,565.16 L159.60,564.38 L160.67,563.61 L161.75,562.87 L162.82,562.15 L163.89,561.37 L164.96,560.54 L166.03,559.68 L167.10,558.81 L168.17,557.93 L169.24,557.07 L170.31,556.23 L171.38,555.43 L172.46,554.69 L173.53,553.98 L174.60,553.29 L175.67,552.62 L176.74,551.96 L177.81,551.31 L178.88,550.67 L179.95,550.03 L181.02,549.39 L182.09,548.74 L183.16,548.08 L184.24,547.37 L185.31,546.54 L186.38,545.66 L187.45,544.77 L188.52,543.92 L189.59,543.15 L190.66,542.51 L191.73,542.05 L192.80,541.82 L193.88,541.82 L194.95,541.90 L196.02,542.06 L197.09,542.28 L198.16,542.54 L199.23,542.85 L200.30,543.18 L201.37,543.53 L202.44,543.90 L203.51,544.27 L204.58,544.63 L205.66,545.02 L206.73,545.47 L207.80,545.97 L208.87,546.50 L209.94,547.06 L211.01,547.63 L212.08,548.21 L213.15,548.77 L214.22,549.31 L215.30,549.87 L216.37,550.49 L217.44,551.16 L218.51,551.86 L219.58,552.56 L220.65,553.24 L221.72,553.87 L222.79,554.44 L223.86,554.92 L224.93,555.29 L226.00,555.53 L227.08,555.60 L228.15,555.60 L229.22,555.60 L230.29,555.60 L231.36,555.60 L232.43,555.60 L233.50,555.60 L234.57,555.60 L235.64,555.60 L236.72,555.60 L237.79,555.60 L238.86,555.60 L239.93,555.55 L241.00,555.40 L242.07,555.14 L243.14,554.80 L244.21,554.39 L245.28,553.92 L246.35,553.41 L247.43,552.86 L248.50,552.30 L249.57,551.74 L250.64,551.18 L251.71,550.63 L252.78,550.04 L253.85,549.40 L254.92,548.70 L255.99,547.97 L257.06,547.19 L258.13,546.37 L259.21,545.51 L260.28,544.62 L261.35,543.69 L262.42,542.65 L263.49,541.50 L264.56,540.27 L265.63,539.00 L266.70,537.70 L267.77,536.42 L268.85,535.18 L269.92,533.94 L270.99,532.64 L272.06,531.32 L273.13,530.01 L274.20,528.76 L275.27,527.59 L276.34,526.56 L277.41,525.68 L278.48,524.95 L279.56,524.32 L280.63,523.77 L281.70,523.24 L282.77,522.72 L283.84,522.16 L284.91,521.54 L285.98,520.81 L287.05,519.95 L288.12,518.90 L289.19,517.63 L290.26,516.17 L291.34,514.56 L292.41,512.80 L293.48,510.94 L294.55,508.97 L295.62,506.74 L296.69,504.25 L297.76,501.49 L298.83,498.49 L299.90,494.89 L300.98,490.67 L302.05,486.86 L303.12,483.87 L304.19,481.16 L305.26,478.29 L306.33,475.55 L307.40,472.86 L308.47,469.80 L309.54,465.97 L310.61,460.09 L311.69,451.20 L312.76,444.75 L313.83,439.18 L314.90,433.45 L315.97,427.75 L317.04,421.93 L318.11,416.19 L319.18,411.98 L320.25,408.19 L321.32,403.27 L322.39,397.87 L323.47,392.64 L324.54,388.19 L325.61,384.23 L326.68,380.72 L327.75,378.10 L328.82,376.04 L329.89,374.20 L330.96,372.88 L332.03,372.40 L333.11,372.80 L334.18,373.88 L335.25,375.49 L336.32,377.51 L337.39,379.81 L338.46,382.26 L339.53,384.76 L340.60,388.02 L341.67,391.92 L342.74,395.90 L343.81,400.05 L344.89,404.35 L345.96,408.51 L347.03,412.43 L348.10,416.67 L349.17,421.88 L350.24,429.01 L351.31,435.74 L352.38,441.91 L353.45,446.80 L354.52,450.81 L355.60,454.86 L356.67,459.91 L357.74,466.22 L358.81,471.72 L359.88,476.37 L360.95,480.66 L362.02,484.65 L363.09,488.42 L364.16,492.05 L365.24,495.52 L366.31,498.77 L367.38,501.83 L368.45,504.72 L369.52,507.39 L370.59,509.96 L371.66,512.56 L372.73,515.32 L373.80,518.24 L374.87,521.27 L375.94,524.35 L377.02,527.42 L378.09,530.42 L379.16,533.47 L380.23,536.61 L381.30,539.33 L382.37,541.23 L383.44,542.79 L384.51,544.14 L385.58,545.32 L386.65,546.37 L387.73,547.32 L388.80,548.23 L389.87,549.12 L390.94,549.97 L392.01,550.79 L393.08,551.57 L394.15,552.30 L395.22,552.99 L396.29,553.62 L397.37,554.19 L398.44,554.70 L399.51,555.15 L400.58,555.53 L401.65,555.87 L402.72,556.21 L403.79,556.53 L404.86,556.84 L405.93,557.12 L407.00,557.36 L408.07,557.55 L409.15,557.70 L410.22,557.78 L411.29,557.80 L412.36,557.73 L413.43,557.59 L414.50,557.39 L415.57,557.14 L416.64,556.86 L417.71,556.56 L418.78,556.24 L419.86,555.93 L420.93,555.64 L422.00,555.38 L423.07,555.13 L424.14,554.88 L425.21,554.63 L426.28,554.38 L427.35,554.13 L428.42,553.86 L429.50,553.57 L430.57,553.27 L431.64,552.94 L432.71,552.59 L433.78,552.20 L434.85,551.77 L435.92,551.22 L436.99,550.56 L438.06,549.83 L439.13,549.05 L440.20,548.24 L441.28,547.42 L442.35,546.62 L443.42,545.87 L444.49,545.18 L445.56,544.56 L446.63,543.94 L447.70,543.32 L448.77,542.71 L449.84,542.13 L450.92,541.58 L451.99,541.06 L453.06,540.60 L454.13,540.19 L455.20,539.84 L456.27,539.49 L457.34,539.15 L458.41,538.85 L459.48,538.63 L460.55,538.51 L461.62,538.50 L462.70,538.51 L463.77,538.53 L464.84,538.56 L465.91,538.60 L466.98,538.65 L468.05,538.70 L469.12,539.24 L470.19,540.48 L471.26,542.18 L472.34,544.12 L473.41,546.04 L474.48,547.71 L475.55,549.08 L476.62,550.45 L477.69,551.81 L478.76,553.13 L479.83,554.39 L480.90,555.57 L481.97,556.64 L483.04,557.59 L484.12,558.46 L485.19,559.26 L486.26,560.02 L487.33,560.73 L488.40,561.41 L489.47,562.07 L490.54,562.71 L491.61,563.36 L492.68,564.01 L493.75,564.68 L494.83,565.38 L495.90,566.18 L496.97,567.06 L498.04,567.98 L499.11,568.88 L500.18,569.73 L501.25,570.47 L502.32,571.04 L503.39,571.41 L504.47,571.54 L505.54,571.61 L506.61,571.66 L507.68,571.71 L508.75,571.74 L509.82,571.77 L510.89,571.80 L511.96,571.83 L513.03,571.86 L514.10,571.90 L515.17,571.95 L516.25,572.02 L517.32,572.10 L518.39,572.20 L519.46,572.31 L520.53,572.44 L521.60,572.58 L522.67,572.74 L523.74,572.91 L524.81,573.10 L525.88,573.29 L526.96,573.50 L528.03,573.72 L529.10,573.96 L530.17,574.22 L531.24,574.57 L532.31,574.98 L533.38,575.44 L534.45,575.93 L535.52,576.44 L536.60,576.95 L537.67,577.45 L538.74,577.93 L539.81,578.36 L540.88,578.73 L541.95,579.05 L543.02,579.36 L544.09,579.65 L545.16,579.93 L546.23,580.20 L547.31,580.47 L548.38,580.73 L549.45,580.99 L550.52,581.25 L551.59,581.53 L552.66,581.80 L553.73,582.08 L554.80,582.35 L555.87,582.63 L556.94,582.90 L558.01,583.18 L559.09,583.44 L560.16,583.70 L561.23,583.95 L562.30,584.19 L563.37,584.42 L564.44,584.64 L565.51,584.84 L566.58,585.03 L567.65,585.21 L568.73,585.38 L569.80,585.54 L570.87,585.70 L571.94,585.85 L573.01,586.00 L574.08,586.16 L575.15,586.33 L576.22,586.51 L577.29,586.69 L578.36,586.86 L579.43,587.02 L580.51,587.17 L581.58,587.30 L582.65,587.40 L583.72,587.47 L584.79,587.50 L585.86,587.50 L586.93,587.50 L588.00,587.50 L589.07,587.50 L590.14,587.50 L591.22,587.50 L592.29,587.50 L593.36,587.50 L594.43,587.50 L595.50,587.50" fill="none" stroke="#000" stroke-width="1.3" stroke-dasharray="14.5 10.35 2 10.05" stroke-dashoffset="29.60" stroke-linecap="butt"/>
<path d="M60.00,587.50 L61.07,587.50 L62.14,587.50 L63.21,587.50 L64.28,587.50 L65.36,587.50 L66.43,587.50 L67.50,587.50 L68.57,587.50 L69.64,587.50 L70.71,587.50 L71.78,587.50 L72.85,587.50 L73.92,587.50 L74.99,587.50 L76.06,587.50 L77.14,587.50 L78.21,587.50 L79.28,587.50 L80.35,587.50 L81.42,587.50 L82.49,587.50 L83.56,587.50 L84.63,587.50 L85.70,587.50 L86.78,587.50 L87.85,587.50 L88.92,587.50 L89.99,587.50 L91.06,587.50 L92.13,587.50 L93.20,587.50 L94.27,587.50 L95.34,587.50 L96.41,587.50 L97.48,587.50 L98.56,587.50 L99.63,587.50 L100.70,587.50 L101.77,587.50 L102.84,587.50 L103.91,587.50 L104.98,587.50 L106.05,587.50 L107.12,587.50 L108.19,587.50 L109.27,587.50 L110.34,587.50 L111.41,587.50 L112.48,587.50 L113.55,587.50 L114.62,587.50 L115.69,587.50 L116.76,587.50 L117.83,587.50 L118.91,587.50 L119.98,587.50 L121.05,587.50 L122.12,587.50 L123.19,587.50 L124.26,587.50 L125.33,587.50 L126.40,587.50 L127.47,587.50 L128.54,587.50 L129.62,587.50 L130.69,587.50 L131.76,587.50 L132.83,587.50 L133.90,587.50 L134.97,587.50 L136.04,587.50 L137.11,587.50 L138.18,587.50 L139.25,587.50 L140.32,587.50 L141.40,587.50 L142.47,587.50 L143.54,587.50 L144.61,587.50 L145.68,587.50 L146.75,587.50 L147.82,587.50 L148.89,587.50 L149.96,587.50 L151.03,587.50 L152.11,587.50 L153.18,587.50 L154.25,587.50 L155.32,587.50 L156.39,587.50 L157.46,587.50 L158.53,587.50 L159.60,587.50 L160.67,587.50 L161.75,587.50 L162.82,587.50 L163.89,587.50 L164.96,587.50 L166.03,587.50 L167.10,587.50 L168.17,587.50 L169.24,587.50 L170.31,587.50 L171.38,587.45 L172.46,587.37 L173.53,587.25 L174.60,587.14 L175.67,587.03 L176.74,586.94 L177.81,586.85 L178.88,586.77 L179.95,586.68 L181.02,586.59 L182.09,586.51 L183.16,586.42 L184.24,586.34 L185.31,586.25 L186.38,586.15 L187.45,586.04 L188.52,585.93 L189.59,585.81 L190.66,585.71 L191.73,585.61 L192.80,585.52 L193.88,585.46 L194.95,585.41 L196.02,585.40 L197.09,585.40 L198.16,585.40 L199.23,585.40 L200.30,585.40 L201.37,585.40 L202.44,585.40 L203.51,585.40 L204.58,585.40 L205.66,585.40 L206.73,585.40 L207.80,585.39 L208.87,585.30 L209.94,585.13 L211.01,584.90 L212.08,584.64 L213.15,584.36 L214.22,584.08 L215.30,583.83 L216.37,583.62 L217.44,583.47 L218.51,583.40 L219.58,583.41 L220.65,583.42 L221.72,583.45 L222.79,583.48 L223.86,583.52 L224.93,583.55 L226.00,583.58 L227.08,583.59 L228.15,583.60 L229.22,583.60 L230.29,583.58 L231.36,583.57 L232.43,583.54 L233.50,583.51 L234.57,583.48 L235.64,583.44 L236.72,583.39 L237.79,583.35 L238.86,583.29 L239.93,583.24 L241.00,583.18 L242.07,583.12 L243.14,583.05 L244.21,582.99 L245.28,582.90 L246.35,582.78 L247.43,582.64 L248.50,582.47 L249.57,582.28 L250.64,582.08 L251.71,581.86 L252.78,581.63 L253.85,581.39 L254.92,581.15 L255.99,580.90 L257.06,580.65 L258.13,580.41 L259.21,580.17 L260.28,579.94 L261.35,579.72 L262.42,579.50 L263.49,579.28 L264.56,579.05 L265.63,578.81 L266.70,578.55 L267.77,578.27 L268.85,577.97 L269.92,577.63 L270.99,577.24 L272.06,576.79 L273.13,576.28 L274.20,575.73 L275.27,575.12 L276.34,574.47 L277.41,573.78 L278.48,573.06 L279.56,572.32 L280.63,571.53 L281.70,570.66 L282.77,569.71 L283.84,568.69 L284.91,567.61 L285.98,566.48 L287.05,565.32 L288.12,564.12 L289.19,562.91 L290.26,561.70 L291.34,560.49 L292.41,559.26 L293.48,557.98 L294.55,556.61 L295.62,555.13 L296.69,553.50 L297.76,551.62 L298.83,549.37 L299.90,546.88 L300.98,544.34 L302.05,541.90 L303.12,539.63 L304.19,537.44 L305.26,535.23 L306.33,532.94 L307.40,530.48 L308.47,527.80 L309.54,525.01 L310.61,521.90 L311.69,518.23 L312.76,513.11 L313.83,506.84 L314.90,502.32 L315.97,498.60 L317.04,494.91 L318.11,490.48 L319.18,484.61 L320.25,478.63 L321.32,472.75 L322.39,468.86 L323.47,466.23 L324.54,464.15 L325.61,462.51 L326.68,461.14 L327.75,459.80 L328.82,458.64 L329.89,457.82 L330.96,457.50 L332.03,457.61 L333.11,457.94 L334.18,458.46 L335.25,459.15 L336.32,459.97 L337.39,460.90 L338.46,462.38 L339.53,464.86 L340.60,467.93 L341.67,471.17 L342.74,474.28 L343.81,477.64 L344.89,481.22 L345.96,484.95 L347.03,488.70 L348.10,492.39 L349.17,495.90 L350.24,499.25 L351.31,502.52 L352.38,505.75 L353.45,508.96 L354.52,512.18 L355.60,515.39 L356.67,518.58 L357.74,521.76 L358.81,524.91 L359.88,528.07 L360.95,531.25 L362.02,534.43 L363.09,537.60 L364.16,540.74 L365.24,543.85 L366.31,546.91 L367.38,549.90 L368.45,552.83 L369.52,555.70 L370.59,558.68 L371.66,561.57 L372.73,564.14 L373.80,566.17 L374.87,567.81 L375.94,569.31 L377.02,570.66 L378.09,571.89 L379.16,573.00 L380.23,574.00 L381.30,574.91 L382.37,575.73 L383.44,576.51 L384.51,577.26 L385.58,577.96 L386.65,578.61 L387.73,579.22 L388.80,579.77 L389.87,580.28 L390.94,580.72 L392.01,581.11 L393.08,581.44 L394.15,581.75 L395.22,582.03 L396.29,582.29 L397.37,582.53 L398.44,582.75 L399.51,582.95 L400.58,583.14 L401.65,583.32 L402.72,583.49 L403.79,583.65 L404.86,583.82 L405.93,583.99 L407.00,584.15 L408.07,584.30 L409.15,584.43 L410.22,584.55 L411.29,584.63 L412.36,584.68 L413.43,584.70 L414.50,584.70 L415.57,584.70 L416.64,584.70 L417.71,584.70 L418.78,584.70 L419.86,584.70 L420.93,584.70 L422.00,584.70 L423.07,584.70 L424.14,584.70 L425.21,584.70 L426.28,584.70 L427.35,584.70 L428.42,584.70 L429.50,584.70 L430.57,584.69 L431.64,584.64 L432.71,584.56 L433.78,584.45 L434.85,584.33 L435.92,584.20 L436.99,584.06 L438.06,583.93 L439.13,583.80 L440.20,583.69 L441.28,583.60 L442.35,583.53 L443.42,583.50 L444.49,583.50 L445.56,583.50 L446.63,583.50 L447.70,583.50 L448.77,583.50 L449.84,583.50 L450.92,583.50 L451.99,583.50 L453.06,583.50 L454.13,583.47 L455.20,583.38 L456.27,583.27 L457.34,583.16 L458.41,583.07 L459.48,583.01 L460.55,583.03 L461.62,583.27 L462.70,583.68 L463.77,584.19 L464.84,584.74 L465.91,585.27 L466.98,585.72 L468.05,586.01 L469.12,586.22 L470.19,586.42 L471.26,586.61 L472.34,586.79 L473.41,586.96 L474.48,587.11 L475.55,587.24 L476.62,587.34 L477.69,587.42 L478.76,587.48 L479.83,587.50 L480.90,587.50 L481.97,587.50 L483.04,587.50 L484.12,587.50 L485.19,587.50 L486.26,587.50 L487.33,587.50 L488.40,587.50 L489.47,587.50 L490.54,587.50 L491.61,587.50 L492.68,587.50 L493.75,587.50 L494.83,587.50 L495.90,587.50 L496.97,587.50 L498.04,587.50 L499.11,587.50 L500.18,587.50 L501.25,587.50 L502.32,587.50 L503.39,587.50 L504.47,587.50 L505.54,587.50 L506.61,587.50 L507.68,587.50 L508.75,587.50 L509.82,587.50 L510.89,587.50 L511.96,587.50 L513.03,587.50 L514.10,587.50 L515.17,587.50 L516.25,587.50 L517.32,587.50 L518.39,587.50 L519.46,587.50 L520.53,587.50 L521.60,587.50 L522.67,587.50 L523.74,587.50 L524.81,587.50 L525.88,587.50 L526.96,587.50 L528.03,587.50 L529.10,587.50 L530.17,587.50 L531.24,587.50 L532.31,587.50 L533.38,587.50 L534.45,587.50 L535.52,587.50 L536.60,587.50 L537.67,587.50 L538.74,587.50 L539.81,587.50 L540.88,587.50 L541.95,587.50 L543.02,587.50 L544.09,587.50 L545.16,587.50 L546.23,587.50 L547.31,587.50 L548.38,587.50 L549.45,587.50 L550.52,587.50 L551.59,587.50 L552.66,587.50 L553.73,587.50 L554.80,587.50 L555.87,587.50 L556.94,587.50 L558.01,587.50 L559.09,587.50 L560.16,587.50 L561.23,587.50 L562.30,587.50 L563.37,587.50 L564.44,587.50 L565.51,587.50 L566.58,587.50 L567.65,587.50 L568.73,587.50 L569.80,587.50 L570.87,587.50 L571.94,587.50 L573.01,587.50 L574.08,587.50 L575.15,587.50 L576.22,587.50 L577.29,587.50 L578.36,587.50 L579.43,587.50 L580.51,587.50 L581.58,587.50 L582.65,587.50 L583.72,587.50 L584.79,587.50 L585.86,587.50 L586.93,587.50 L588.00,587.50 L589.07,587.50 L590.14,587.50 L591.22,587.50 L592.29,587.50 L593.36,587.50 L594.43,587.50 L595.50,587.50" fill="none" stroke="#000" stroke-width="1.3" stroke-dasharray="14.5 10.35 2 10.05" stroke-dashoffset="36.13" stroke-linecap="butt"/>
<path d="M60.00,587.50 L61.07,587.50 L62.14,587.50 L63.21,587.50 L64.28,587.50 L65.36,587.50 L66.43,587.50 L67.50,587.50 L68.57,587.50 L69.64,587.50 L70.71,587.50 L71.78,587.50 L72.85,587.50 L73.92,587.50 L74.99,587.50 L76.06,587.50 L77.14,587.50 L78.21,587.50 L79.28,587.50 L80.35,587.49 L81.42,587.49 L82.49,587.49 L83.56,587.49 L84.63,587.49 L85.70,587.49 L86.78,587.49 L87.85,587.49 L88.92,587.49 L89.99,587.49 L91.06,587.49 L92.13,587.48 L93.20,587.48 L94.27,587.48 L95.34,587.48 L96.41,587.48 L97.48,587.48 L98.56,587.48 L99.63,587.48 L100.70,587.47 L101.77,587.47 L102.84,587.47 L103.91,587.47 L104.98,587.47 L106.05,587.46 L107.12,587.46 L108.19,587.46 L109.27,587.46 L110.34,587.45 L111.41,587.45 L112.48,587.45 L113.55,587.45 L114.62,587.44 L115.69,587.44 L116.76,587.44 L117.83,587.44 L118.91,587.43 L119.98,587.43 L121.05,587.43 L122.12,587.42 L123.19,587.42 L124.26,587.42 L125.33,587.41 L126.40,587.41 L127.47,587.41 L128.54,587.40 L129.62,587.40 L130.69,587.39 L131.76,587.39 L132.83,587.38 L133.90,587.38 L134.97,587.38 L136.04,587.37 L137.11,587.37 L138.18,587.36 L139.25,587.36 L140.32,587.35 L141.40,587.35 L142.47,587.34 L143.54,587.34 L144.61,587.33 L145.68,587.32 L146.75,587.32 L147.82,587.31 L148.89,587.31 L149.96,587.30 L151.03,587.27 L152.11,587.19 L153.18,587.07 L154.25,586.91 L155.32,586.71 L156.39,586.47 L157.46,586.21 L158.53,585.91 L159.60,585.59 L160.67,585.25 L161.75,584.89 L162.82,584.45 L163.89,583.78 L164.96,582.93 L166.03,581.91 L167.10,580.77 L168.17,579.54 L169.24,578.26 L170.31,576.95 L171.38,575.66 L172.46,574.42 L173.53,573.26 L174.60,572.06 L175.67,570.78 L176.74,569.46 L177.81,568.11 L178.88,566.77 L179.95,565.46 L181.02,564.22 L182.09,563.06 L183.16,562.03 L184.24,561.13 L185.31,560.38 L186.38,559.62 L187.45,558.88 L188.52,558.18 L189.59,557.56 L190.66,557.06 L191.73,556.70 L192.80,556.52 L193.88,556.55 L194.95,556.79 L196.02,557.21 L197.09,557.76 L198.16,558.42 L199.23,559.13 L200.30,559.87 L201.37,560.59 L202.44,561.30 L203.51,562.12 L204.58,563.03 L205.66,564.01 L206.73,565.03 L207.80,566.08 L208.87,567.12 L209.94,568.14 L211.01,569.11 L212.08,570.01 L213.15,570.81 L214.22,571.55 L215.30,572.27 L216.37,572.95 L217.44,573.60 L218.51,574.21 L219.58,574.78 L220.65,575.34 L221.72,575.90 L222.79,576.45 L223.86,576.94 L224.93,577.34 L226.00,577.60 L227.08,577.78 L228.15,577.95 L229.22,578.10 L230.29,578.23 L231.36,578.35 L232.43,578.45 L233.50,578.52 L234.57,578.57 L235.64,578.60 L236.72,578.58 L237.79,578.48 L238.86,578.31 L239.93,578.08 L241.00,577.79 L242.07,577.46 L243.14,577.09 L244.21,576.69 L245.28,576.28 L246.35,575.85 L247.43,575.31 L248.50,574.65 L249.57,573.88 L250.64,573.02 L251.71,572.08 L252.78,571.10 L253.85,570.08 L254.92,569.04 L255.99,568.01 L257.06,566.92 L258.13,565.74 L259.21,564.47 L260.28,563.15 L261.35,561.79 L262.42,560.42 L263.49,559.05 L264.56,557.71 L265.63,556.43 L266.70,555.17 L267.77,553.85 L268.85,552.48 L269.92,551.11 L270.99,549.77 L272.06,548.49 L273.13,547.33 L274.20,546.30 L275.27,545.45 L276.34,544.81 L277.41,544.26 L278.48,543.76 L279.56,543.31 L280.63,542.91 L281.70,542.56 L282.77,542.27 L283.84,542.03 L284.91,541.85 L285.98,541.72 L287.05,541.62 L288.12,541.53 L289.19,541.43 L290.26,541.31 L291.34,541.14 L292.41,540.88 L293.48,540.37 L294.55,539.60 L295.62,538.63 L296.69,537.50 L297.76,536.28 L298.83,534.91 L299.90,533.21 L300.98,531.19 L302.05,528.88 L303.12,526.30 L304.19,523.48 L305.26,520.08 L306.33,516.03 L307.40,511.47 L308.47,506.53 L309.54,501.22 L310.61,495.03 L311.69,488.30 L312.76,481.51 L313.83,474.87 L314.90,468.13 L315.97,461.43 L317.04,454.63 L318.11,447.69 L319.18,441.53 L320.25,437.16 L321.32,432.09 L322.39,424.57 L323.47,418.14 L323.50,418.00 L324.54,414.89 L325.61,411.68 L326.68,408.46 L327.50,406.00 L327.75,405.57 L328.82,403.72 L329.89,401.87 L330.25,401.25 L330.96,402.22 L332.03,403.68 L333.00,405.00 L333.11,405.18 L334.18,406.96 L335.25,408.75 L336.00,410.00 L336.32,411.02 L337.39,414.44 L338.46,417.87 L338.50,418.00 L339.53,422.04 L340.60,426.71 L341.67,431.62 L342.74,436.49 L343.81,441.06 L344.89,445.38 L345.96,449.65 L347.03,453.86 L348.10,457.99 L349.17,462.05 L350.24,466.02 L351.31,469.90 L352.38,473.66 L353.45,477.31 L354.52,480.83 L355.60,484.22 L356.67,487.49 L357.74,490.69 L358.81,493.82 L359.88,496.93 L360.95,500.02 L362.02,503.13 L363.09,506.29 L364.16,509.52 L365.24,512.88 L366.31,516.30 L367.38,519.74 L368.45,523.15 L369.52,526.46 L370.59,529.64 L371.66,532.63 L372.73,535.36 L373.80,537.83 L374.87,540.17 L375.94,542.41 L377.02,544.55 L378.09,546.61 L379.16,548.58 L380.23,550.48 L381.30,552.30 L382.37,554.05 L383.44,555.73 L384.51,557.36 L385.58,558.92 L386.65,560.44 L387.73,561.90 L388.80,563.30 L389.87,564.63 L390.94,565.88 L392.01,567.03 L393.08,568.08 L394.15,569.07 L395.22,570.05 L396.29,571.00 L397.37,571.89 L398.44,572.70 L399.51,573.41 L400.58,574.01 L401.65,574.48 L402.72,574.86 L403.79,575.24 L404.86,575.60 L405.93,575.94 L407.00,576.27 L408.07,576.57 L409.15,576.86 L410.22,577.12 L411.29,577.36 L412.36,577.57 L413.43,577.74 L414.50,577.89 L415.57,578.00 L416.64,578.07 L417.71,578.10 L418.78,578.09 L419.86,578.05 L420.93,577.97 L422.00,577.86 L423.07,577.73 L424.14,577.57 L425.21,577.39 L426.28,577.20 L427.35,576.99 L428.42,576.77 L429.50,576.54 L430.57,576.29 L431.64,575.97 L432.71,575.57 L433.78,575.12 L434.85,574.62 L435.92,574.06 L436.99,573.46 L438.06,572.82 L439.13,572.14 L440.20,571.44 L441.28,570.72 L442.35,569.89 L443.42,568.89 L444.49,567.79 L445.56,566.62 L446.63,565.44 L447.70,564.30 L448.77,563.19 L449.84,561.99 L450.92,560.75 L451.99,559.52 L453.06,558.36 L454.13,557.33 L455.20,556.48 L456.27,555.86 L457.34,555.33 L458.41,554.82 L459.48,554.35 L460.55,553.94 L461.62,553.62 L462.70,553.40 L463.77,553.30 L464.84,553.42 L465.91,553.89 L466.98,554.65 L468.05,555.63 L469.12,556.75 L470.19,557.96 L471.26,559.19 L472.34,560.37 L473.41,561.74 L474.48,563.31 L475.55,565.02 L476.62,566.79 L477.69,568.56 L478.76,570.24 L479.83,571.78 L480.90,573.19 L481.97,574.60 L483.04,575.99 L484.12,577.33 L485.19,578.59 L486.26,579.74 L487.33,580.75 L488.40,581.61 L489.47,582.42 L490.54,583.19 L491.61,583.92 L492.68,584.57 L493.75,585.12 L494.83,585.57 L495.90,585.88 L496.97,586.10 L498.04,586.30 L499.11,586.48 L500.18,586.65 L501.25,586.80 L502.32,586.93 L503.39,587.04 L504.47,587.12 L505.54,587.17 L506.61,587.20 L507.68,587.21 L508.75,587.22 L509.82,587.23 L510.89,587.24 L511.96,587.24 L513.03,587.25 L514.10,587.26 L515.17,587.27 L516.25,587.28 L517.32,587.28 L518.39,587.29 L519.46,587.30 L520.53,587.31 L521.60,587.31 L522.67,587.32 L523.74,587.33 L524.81,587.33 L525.88,587.34 L526.96,587.35 L528.03,587.35 L529.10,587.36 L530.17,587.36 L531.24,587.37 L532.31,587.37 L533.38,587.38 L534.45,587.38 L535.52,587.39 L536.60,587.39 L537.67,587.40 L538.74,587.40 L539.81,587.41 L540.88,587.41 L541.95,587.42 L543.02,587.42 L544.09,587.42 L545.16,587.43 L546.23,587.43 L547.31,587.44 L548.38,587.44 L549.45,587.44 L550.52,587.45 L551.59,587.45 L552.66,587.45 L553.73,587.45 L554.80,587.46 L555.87,587.46 L556.94,587.46 L558.01,587.46 L559.09,587.47 L560.16,587.47 L561.23,587.47 L562.30,587.47 L563.37,587.48 L564.44,587.48 L565.51,587.48 L566.58,587.48 L567.65,587.48 L568.73,587.48 L569.80,587.49 L570.87,587.49 L571.94,587.49 L573.01,587.49 L574.08,587.49 L575.15,587.49 L576.22,587.49 L577.29,587.49 L578.36,587.49 L579.43,587.49 L580.51,587.50 L581.58,587.50 L582.65,587.50 L583.72,587.50 L584.79,587.50 L585.86,587.50 L586.93,587.50 L588.00,587.50 L589.07,587.50 L590.14,587.50 L591.22,587.50 L592.29,587.50 L593.36,587.50 L594.43,587.50 L595.50,587.50" fill="none" stroke="#000" stroke-width="2.5" stroke-linejoin="round"/>
<path d="M60.00,587.08 L62.14,587.05 L64.28,587.03 L66.43,587.01 L68.57,586.99 L70.71,586.96 L72.85,586.93 L74.99,586.91 L77.14,586.88 L79.28,586.85 L81.42,586.82 L83.56,586.78 L85.70,586.75 L87.85,586.71 L89.99,586.67 L92.13,586.63 L94.27,586.59 L96.41,586.55 L98.56,586.50 L100.70,586.45 L102.84,586.40 L104.98,586.35 L107.12,586.29 L109.27,586.23 L111.41,586.17 L113.55,586.11 L115.69,586.04 L117.83,585.97 L119.98,585.90 L122.12,585.82 L124.26,585.74 L126.40,585.66 L128.54,585.57 L130.69,585.48 L132.83,585.38 L134.97,585.28 L137.11,585.18 L139.25,585.07 L141.40,584.95 L143.54,584.83 L145.68,584.71 L147.82,584.57 L149.96,584.43 L152.11,584.29 L154.25,584.14 L156.39,583.98 L158.53,583.81 L160.67,583.64 L162.82,583.46 L164.96,583.27 L167.10,583.07 L169.24,582.86 L171.38,582.64 L173.53,582.42 L175.67,582.18 L177.81,581.93 L179.95,581.67 L182.09,581.39 L184.24,581.11 L186.38,580.81 L188.52,580.50 L190.66,580.17 L192.80,579.83 L194.95,579.47 L197.09,579.10 L199.23,578.70 L201.37,578.29 L203.51,577.86 L205.66,577.42 L207.80,576.95 L209.94,576.45 L212.08,575.94 L214.22,575.40 L216.37,574.84 L218.51,574.24 L220.65,573.63 L222.79,572.98 L224.93,572.30 L227.08,571.59 L229.22,570.85 L231.36,570.07 L233.50,569.25 L235.64,568.39 L237.79,567.50 L239.93,566.56 L242.07,565.57 L244.21,564.53 L246.35,563.45 L248.50,562.31 L250.64,561.11 L252.78,559.85 L254.92,558.53 L257.06,557.14 L259.21,555.68 L261.35,554.14 L263.49,552.52 L265.63,550.82 L267.77,549.02 L269.92,547.12 L272.06,545.11 L274.20,542.99 L276.34,540.75 L278.48,538.37 L280.63,535.84 L282.77,533.16 L284.91,530.31 L285.12,530.01 L285.34,529.72 L285.55,529.42 L285.77,529.11 L285.98,528.81 L286.20,528.51 L286.41,528.20 L286.62,527.89 L286.84,527.58 L287.05,527.27 L287.27,526.95 L287.48,526.63 L287.69,526.31 L287.91,525.99 L288.12,525.67 L288.34,525.34 L288.55,525.01 L288.77,524.68 L288.98,524.35 L289.19,524.01 L289.41,523.68 L289.62,523.34 L289.84,522.99 L290.05,522.65 L290.26,522.30 L290.48,521.95 L290.69,521.60 L290.91,521.25 L291.12,520.89 L291.34,520.53 L291.55,520.17 L291.76,519.80 L291.98,519.44 L292.19,519.07 L292.41,518.69 L292.62,518.32 L292.84,517.94 L293.05,517.56 L293.26,517.18 L293.48,516.79 L293.69,516.40 L293.91,516.01 L294.12,515.61 L294.33,515.22 L294.55,514.81 L294.76,514.41 L294.98,514.00 L295.19,513.59 L295.41,513.18 L295.62,512.76 L295.83,512.34 L296.05,511.92 L296.26,511.49 L296.48,511.06 L296.69,510.63 L296.91,510.19 L297.12,509.75 L297.33,509.31 L297.55,508.86 L297.76,508.41 L297.98,507.95 L298.19,507.49 L298.40,507.03 L298.62,506.56 L298.83,506.09 L299.05,505.62 L299.26,505.14 L299.48,504.66 L299.69,504.17 L299.90,503.68 L300.12,503.18 L300.33,502.68 L300.55,502.18 L300.76,501.67 L300.98,501.16 L301.19,500.64 L301.40,500.12 L301.62,499.59 L301.83,499.06 L302.05,498.52 L302.26,497.98 L302.47,497.43 L302.69,496.88 L302.90,496.32 L303.12,495.76 L303.33,495.19 L303.55,494.62 L303.76,494.04 L303.97,493.45 L304.19,492.86 L304.40,492.27 L304.62,491.66 L304.83,491.05 L305.04,490.44 L305.26,489.82 L305.47,489.19 L305.69,488.56 L305.90,487.92 L306.12,487.27 L306.33,486.62 L306.54,485.95 L306.76,485.29 L306.97,484.61 L307.19,483.93 L307.40,483.24 L307.62,482.54 L307.83,481.83 L308.04,481.12 L308.26,480.39 L308.47,479.66 L308.69,478.92 L308.90,478.17 L309.11,477.42 L309.33,476.65 L309.54,475.87 L309.76,475.09 L309.97,474.29 L310.19,473.49 L310.40,472.67 L310.61,471.85 L310.83,471.01 L311.04,470.16 L311.26,469.31 L311.47,468.44 L311.69,467.55 L311.90,466.66 L312.11,465.75 L312.33,464.84 L312.54,463.90 L312.76,462.96 L312.97,462.00 L313.18,461.03 L313.40,460.04 L313.61,459.04 L313.83,458.02 L314.04,456.99 L314.26,455.94 L314.47,454.88 L314.68,453.80 L314.90,452.70 L315.11,451.58 L315.33,450.44 L315.54,449.29 L315.75,448.12 L315.97,446.92 L316.18,445.71 L316.40,444.47 L316.61,443.21 L316.83,441.93 L317.04,440.62 L317.25,439.29 L317.47,437.93 L317.68,436.55 L317.90,435.14 L318.11,433.70 L318.33,432.23 L318.54,430.73 L318.75,429.20 L318.97,427.64 L319.18,426.04 L319.40,424.41 L319.61,422.74 L319.82,421.03 L320.04,419.28 L320.25,417.49 L320.47,415.66 L320.68,413.78 L320.90,411.85 L321.11,409.87 L321.32,407.84 L321.54,405.75 L321.75,403.60 L321.97,401.40 L322.18,399.12 L322.39,396.79 L322.61,394.38 L322.82,391.89 L323.04,389.32 L323.25,386.67 L323.47,383.93 L323.68,381.10 L323.89,378.16 L324.11,375.12 L324.32,371.96 L324.54,368.68 L324.75,365.26 L324.97,361.71 L325.18,358.00 L325.39,354.12 L325.61,350.07 L325.82,345.83 L326.04,341.38 L326.25,336.70 L326.46,331.78 L326.68,326.58 L326.89,321.08 L327.11,315.25 L327.32,309.07 L327.54,302.49 L327.75,295.50 L327.96,302.49 L328.18,309.07 L328.39,315.25 L328.61,321.08 L328.82,326.58 L329.04,331.78 L329.25,336.70 L329.46,341.38 L329.68,345.83 L329.89,350.07 L330.11,354.12 L330.32,358.00 L330.53,361.71 L330.75,365.26 L330.96,368.68 L331.18,371.96 L331.39,375.12 L331.61,378.16 L331.82,381.10 L332.03,383.93 L332.25,386.67 L332.46,389.32 L332.68,391.89 L332.89,394.38 L333.11,396.79 L333.32,399.12 L333.53,401.40 L333.75,403.60 L333.96,405.75 L334.18,407.84 L334.39,409.87 L334.60,411.85 L334.82,413.78 L335.03,415.66 L335.25,417.49 L335.46,419.28 L335.68,421.03 L335.89,422.74 L336.10,424.41 L336.32,426.04 L336.53,427.64 L336.75,429.20 L336.96,430.73 L337.17,432.23 L337.39,433.70 L337.60,435.14 L337.82,436.55 L338.03,437.93 L338.25,439.29 L338.46,440.62 L338.67,441.93 L338.89,443.21 L339.10,444.47 L339.32,445.71 L339.53,446.92 L339.75,448.12 L339.96,449.29 L340.17,450.44 L340.39,451.58 L340.60,452.70 L340.82,453.80 L341.03,454.88 L341.24,455.94 L341.46,456.99 L341.67,458.02 L341.89,459.04 L342.10,460.04 L342.32,461.03 L342.53,462.00 L342.74,462.96 L342.96,463.90 L343.17,464.84 L343.39,465.75 L343.60,466.66 L343.81,467.55 L344.03,468.44 L344.24,469.31 L344.46,470.16 L344.67,471.01 L344.89,471.85 L345.10,472.67 L345.31,473.49 L345.53,474.29 L345.74,475.09 L345.96,475.87 L346.17,476.65 L346.39,477.42 L346.60,478.17 L346.81,478.92 L347.03,479.66 L347.24,480.39 L347.46,481.12 L347.67,481.83 L347.88,482.54 L348.10,483.24 L348.31,483.93 L348.53,484.61 L348.74,485.29 L348.96,485.95 L349.17,486.62 L349.38,487.27 L349.60,487.92 L349.81,488.56 L350.03,489.19 L350.24,489.82 L350.46,490.44 L350.67,491.05 L350.88,491.66 L351.10,492.27 L351.31,492.86 L351.53,493.45 L351.74,494.04 L351.95,494.62 L352.17,495.19 L352.38,495.76 L352.60,496.32 L352.81,496.88 L353.03,497.43 L353.24,497.98 L353.45,498.52 L353.67,499.06 L353.88,499.59 L354.10,500.12 L354.31,500.64 L354.52,501.16 L354.74,501.67 L354.95,502.18 L355.17,502.68 L355.38,503.18 L355.60,503.68 L355.81,504.17 L356.02,504.66 L356.24,505.14 L356.45,505.62 L356.67,506.09 L356.88,506.56 L357.10,507.03 L357.31,507.49 L357.52,507.95 L357.74,508.41 L357.95,508.86 L358.17,509.31 L358.38,509.75 L358.59,510.19 L358.81,510.63 L359.02,511.06 L359.24,511.49 L359.45,511.92 L359.67,512.34 L359.88,512.76 L360.09,513.18 L360.31,513.59 L360.52,514.00 L360.74,514.41 L360.95,514.81 L361.17,515.22 L361.38,515.61 L361.59,516.01 L361.81,516.40 L362.02,516.79 L362.24,517.18 L362.45,517.56 L362.66,517.94 L362.88,518.32 L363.09,518.69 L363.31,519.07 L363.52,519.44 L363.74,519.80 L363.95,520.17 L364.16,520.53 L364.38,520.89 L364.59,521.25 L364.81,521.60 L365.02,521.95 L365.24,522.30 L365.45,522.65 L365.66,522.99 L365.88,523.34 L366.09,523.68 L366.31,524.01 L366.52,524.35 L366.73,524.68 L366.95,525.01 L367.16,525.34 L367.38,525.67 L367.59,525.99 L367.81,526.31 L368.02,526.63 L368.23,526.95 L368.45,527.27 L368.66,527.58 L368.88,527.89 L369.09,528.20 L369.30,528.51 L369.52,528.81 L369.73,529.11 L369.95,529.42 L370.16,529.72 L370.38,530.01 L370.59,530.31 L372.73,533.16 L374.87,535.84 L377.02,538.37 L379.16,540.75 L381.30,542.99 L383.44,545.11 L385.58,547.12 L387.73,549.02 L389.87,550.82 L392.01,552.52 L394.15,554.14 L396.29,555.68 L398.44,557.14 L400.58,558.53 L402.72,559.85 L404.86,561.11 L407.00,562.31 L409.15,563.45 L411.29,564.53 L413.43,565.57 L415.57,566.56 L417.71,567.50 L419.86,568.39 L422.00,569.25 L424.14,570.07 L426.28,570.85 L428.42,571.59 L430.57,572.30 L432.71,572.98 L434.85,573.63 L436.99,574.24 L439.13,574.84 L441.28,575.40 L443.42,575.94 L445.56,576.45 L447.70,576.95 L449.84,577.42 L451.99,577.86 L454.13,578.29 L456.27,578.70 L458.41,579.10 L460.55,579.47 L462.70,579.83 L464.84,580.17 L466.98,580.50 L469.12,580.81 L471.26,581.11 L473.41,581.39 L475.55,581.67 L477.69,581.93 L479.83,582.18 L481.97,582.42 L484.12,582.64 L486.26,582.86 L488.40,583.07 L490.54,583.27 L492.68,583.46 L494.83,583.64 L496.97,583.81 L499.11,583.98 L501.25,584.14 L503.39,584.29 L505.54,584.43 L507.68,584.57 L509.82,584.71 L511.96,584.83 L514.10,584.95 L516.25,585.07 L518.39,585.18 L520.53,585.28 L522.67,585.38 L524.81,585.48 L526.96,585.57 L529.10,585.66 L531.24,585.74 L533.38,585.82 L535.52,585.90 L537.67,585.97 L539.81,586.04 L541.95,586.11 L544.09,586.17 L546.23,586.23 L548.38,586.29 L550.52,586.35 L552.66,586.40 L554.80,586.45 L556.94,586.50 L559.09,586.55 L561.23,586.59 L563.37,586.63 L565.51,586.67 L567.65,586.71 L569.80,586.75 L571.94,586.78 L574.08,586.82 L576.22,586.85 L578.36,586.88 L580.51,586.91 L582.65,586.93 L584.79,586.96 L586.93,586.99 L589.07,587.01 L591.22,587.03 L593.36,587.05 L595.50,587.08" fill="none" stroke="#2418c4" stroke-width="1.35" stroke-linejoin="round"/>
<path d="M60.00,877.00 L61.07,876.81 L62.14,876.62 L63.21,876.44 L64.28,876.27 L65.36,876.11 L66.43,875.97 L67.50,875.84 L68.57,875.72 L69.64,875.63 L70.71,875.55 L71.78,875.49 L72.85,875.43 L73.92,875.38 L74.99,875.33 L76.06,875.29 L77.14,875.25 L78.21,875.21 L79.28,875.17 L80.35,875.12 L81.42,875.07 L82.49,875.01 L83.56,874.94 L84.63,874.86 L85.70,874.76 L86.78,874.66 L87.85,874.55 L88.92,874.43 L89.99,874.32 L91.06,874.22 L92.13,874.12 L93.20,874.04 L94.27,873.97 L95.34,873.92 L96.41,873.90 L97.48,873.90 L98.56,873.92 L99.63,873.95 L100.70,873.98 L101.77,874.02 L102.84,874.06 L103.91,874.10 L104.98,874.14 L106.05,874.17 L107.12,874.19 L108.19,874.20 L109.27,874.17 L110.34,874.09 L111.41,873.96 L112.48,873.80 L113.55,873.62 L114.62,873.42 L115.69,873.23 L116.76,873.05 L117.83,872.89 L118.91,872.75 L119.98,872.66 L121.05,872.59 L122.12,872.52 L123.19,872.47 L124.26,872.42 L125.33,872.37 L126.40,872.33 L127.47,872.28 L128.54,872.23 L129.62,872.18 L130.69,872.12 L131.76,872.05 L132.83,871.97 L133.90,871.88 L134.97,871.76 L136.04,871.60 L137.11,871.42 L138.18,871.21 L139.25,870.99 L140.32,870.75 L141.40,870.51 L142.47,870.26 L143.54,870.01 L144.61,869.77 L145.68,869.51 L146.75,869.25 L147.82,868.97 L148.89,868.69 L149.96,868.39 L151.03,868.09 L152.11,867.78 L153.18,867.46 L154.25,867.14 L155.32,866.81 L156.39,866.47 L157.46,866.13 L158.53,865.77 L159.60,865.40 L160.67,865.01 L161.75,864.62 L162.82,864.22 L163.89,863.81 L164.96,863.40 L166.03,862.97 L167.10,862.54 L168.17,862.10 L169.24,861.62 L170.31,861.09 L171.38,860.54 L172.46,859.98 L173.53,859.42 L174.60,858.88 L175.67,858.38 L176.74,857.92 L177.81,857.54 L178.88,857.23 L179.95,856.98 L181.02,856.73 L182.09,856.49 L183.16,856.26 L184.24,856.04 L185.31,855.84 L186.38,855.66 L187.45,855.51 L188.52,855.38 L189.59,855.28 L190.66,855.22 L191.73,855.20 L192.80,855.20 L193.88,855.22 L194.95,855.24 L196.02,855.27 L197.09,855.31 L198.16,855.36 L199.23,855.41 L200.30,855.46 L201.37,855.52 L202.44,855.58 L203.51,855.64 L204.58,855.71 L205.66,855.79 L206.73,855.90 L207.80,856.04 L208.87,856.19 L209.94,856.35 L211.01,856.50 L212.08,856.64 L213.15,856.76 L214.22,856.85 L215.30,856.89 L216.37,856.90 L217.44,856.90 L218.51,856.90 L219.58,856.90 L220.65,856.90 L221.72,856.90 L222.79,856.90 L223.86,856.90 L224.93,856.86 L226.00,856.62 L227.08,856.27 L228.15,855.97 L229.22,855.73 L230.29,855.51 L231.36,855.30 L232.43,855.10 L233.50,854.90 L234.57,854.71 L235.64,854.51 L236.72,854.30 L237.79,854.08 L238.86,853.84 L239.93,853.58 L241.00,853.29 L242.07,852.98 L243.14,852.60 L244.21,852.16 L245.28,851.66 L246.35,851.11 L247.43,850.54 L248.50,849.94 L249.57,849.33 L250.64,848.73 L251.71,848.15 L252.78,847.60 L253.85,847.06 L254.92,846.52 L255.99,845.99 L257.06,845.44 L258.13,844.89 L259.21,844.31 L260.28,843.71 L261.35,843.07 L262.42,842.39 L263.49,841.66 L264.56,840.84 L265.63,839.94 L266.70,838.98 L267.77,837.98 L268.85,836.95 L269.92,835.91 L270.99,834.87 L272.06,833.86 L273.13,832.89 L274.20,831.98 L275.27,831.12 L276.34,830.29 L277.41,829.45 L278.48,828.57 L279.56,827.61 L280.63,826.56 L281.70,825.37 L282.77,823.91 L283.84,822.04 L284.91,820.00 L285.98,818.03 L287.05,816.24 L288.12,814.50 L289.19,812.80 L290.26,811.11 L291.34,809.39 L292.41,807.63 L293.48,805.79 L294.55,803.85 L295.62,801.76 L296.69,799.44 L297.76,797.00 L298.83,794.55 L299.90,792.20 L300.98,790.10 L302.05,788.07 L303.12,785.71 L304.19,782.82 L305.26,779.52 L306.33,775.92 L307.40,772.15 L308.47,768.36 L309.54,764.64 L310.61,760.06 L311.69,752.34 L312.76,743.34 L313.83,737.52 L314.90,732.15 L315.97,725.95 L317.04,720.39 L318.11,716.46 L319.18,712.90 L320.25,708.30 L321.32,702.03 L322.39,696.67 L323.47,693.53 L324.54,690.70 L325.61,688.28 L326.68,686.45 L327.75,685.39 L328.82,685.20 L329.89,685.25 L330.96,685.35 L332.03,685.51 L333.11,686.29 L334.18,687.85 L335.25,690.19 L336.32,694.08 L337.39,698.57 L338.46,702.75 L339.53,706.92 L340.60,711.20 L341.67,715.58 L342.74,720.06 L343.81,724.46 L344.89,728.75 L345.96,732.98 L347.03,737.12 L348.10,741.15 L349.17,745.02 L350.24,748.92 L351.31,753.03 L352.38,757.27 L353.45,761.60 L354.52,766.02 L355.60,770.55 L356.67,775.32 L357.74,780.04 L358.81,784.43 L359.88,788.68 L360.95,792.67 L362.02,796.06 L363.09,798.84 L364.16,801.28 L365.24,803.51 L366.31,805.66 L367.38,807.88 L368.45,810.25 L369.52,812.68 L370.59,815.11 L371.66,817.49 L372.73,819.79 L373.80,822.11 L374.87,824.41 L375.94,826.56 L377.02,828.42 L378.09,829.98 L379.16,831.43 L380.23,832.76 L381.30,834.01 L382.37,835.17 L383.44,836.25 L384.51,837.28 L385.58,838.25 L386.65,839.17 L387.73,840.04 L388.80,840.85 L389.87,841.63 L390.94,842.38 L392.01,843.11 L393.08,843.82 L394.15,844.53 L395.22,845.24 L396.29,845.96 L397.37,846.70 L398.44,847.47 L399.51,848.33 L400.58,849.25 L401.65,850.18 L402.72,851.08 L403.79,851.90 L404.86,852.58 L405.93,853.08 L407.00,853.40 L408.07,853.69 L409.15,853.96 L410.22,854.22 L411.29,854.45 L412.36,854.67 L413.43,854.87 L414.50,855.04 L415.57,855.19 L416.64,855.31 L417.71,855.40 L418.78,855.47 L419.86,855.50 L420.93,855.50 L422.00,855.50 L423.07,855.50 L424.14,855.50 L425.21,855.50 L426.28,855.50 L427.35,855.50 L428.42,855.50 L429.50,855.50 L430.57,855.50 L431.64,855.50 L432.71,855.49 L433.78,855.44 L434.85,855.36 L435.92,855.25 L436.99,855.11 L438.06,854.96 L439.13,854.80 L440.20,854.64 L441.28,854.47 L442.35,854.32 L443.42,854.16 L444.49,853.97 L445.56,853.75 L446.63,853.52 L447.70,853.27 L448.77,853.03 L449.84,852.79 L450.92,852.57 L451.99,852.38 L453.06,852.21 L454.13,852.09 L455.20,852.02 L456.27,852.00 L457.34,852.00 L458.41,852.00 L459.48,852.00 L460.55,852.00 L461.62,852.00 L462.70,852.00 L463.77,852.00 L464.84,852.00 L465.91,852.00 L466.98,852.01 L468.05,852.16 L469.12,852.49 L470.19,852.96 L471.26,853.54 L472.34,854.19 L473.41,854.89 L474.48,855.61 L475.55,856.30 L476.62,856.94 L477.69,857.50 L478.76,858.05 L479.83,858.60 L480.90,859.16 L481.97,859.72 L483.04,860.28 L484.12,860.85 L485.19,861.41 L486.26,861.96 L487.33,862.51 L488.40,863.05 L489.47,863.59 L490.54,864.11 L491.61,864.62 L492.68,865.12 L493.75,865.62 L494.83,866.13 L495.90,866.62 L496.97,867.11 L498.04,867.57 L499.11,868.01 L500.18,868.42 L501.25,868.78 L502.32,869.12 L503.39,869.43 L504.47,869.73 L505.54,870.01 L506.61,870.28 L507.68,870.54 L508.75,870.79 L509.82,871.03 L510.89,871.26 L511.96,871.49 L513.03,871.72 L514.10,871.94 L515.17,872.16 L516.25,872.37 L517.32,872.58 L518.39,872.78 L519.46,872.97 L520.53,873.16 L521.60,873.34 L522.67,873.51 L523.74,873.68 L524.81,873.83 L525.88,873.98 L526.96,874.12 L528.03,874.27 L529.10,874.41 L530.17,874.54 L531.24,874.68 L532.31,874.80 L533.38,874.92 L534.45,875.04 L535.52,875.15 L536.60,875.25 L537.67,875.34 L538.74,875.42 L539.81,875.49 L540.88,875.55 L541.95,875.60 L543.02,875.65 L544.09,875.69 L545.16,875.72 L546.23,875.76 L547.31,875.80 L548.38,875.83 L549.45,875.88 L550.52,875.92 L551.59,875.98 L552.66,876.04 L553.73,876.12 L554.80,876.22 L555.87,876.32 L556.94,876.44 L558.01,876.56 L559.09,876.68 L560.16,876.80 L561.23,876.92 L562.30,877.03 L563.37,877.14 L564.44,877.23 L565.51,877.31 L566.58,877.39 L567.65,877.46 L568.73,877.52 L569.80,877.58 L570.87,877.64 L571.94,877.70 L573.01,877.75 L574.08,877.81 L575.15,877.86 L576.22,877.91 L577.29,877.96 L578.36,878.00 L579.43,878.05 L580.51,878.09 L581.58,878.13 L582.65,878.17 L583.72,878.20 L584.79,878.25 L585.86,878.29 L586.93,878.34 L588.00,878.39 L589.07,878.45 L590.14,878.51 L591.22,878.59 L592.29,878.68 L593.36,878.78 L594.43,878.89 L595.50,879.00" fill="none" stroke="#000" stroke-width="1.3" stroke-dasharray="14.5 10.35 2 10.05" stroke-dashoffset="13.65" stroke-linecap="butt"/>
<path d="M60.00,879.50 L61.07,879.50 L62.14,879.50 L63.21,879.50 L64.28,879.50 L65.36,879.50 L66.43,879.50 L67.50,879.50 L68.57,879.50 L69.64,879.50 L70.71,879.50 L71.78,879.50 L72.85,879.50 L73.92,879.50 L74.99,879.50 L76.06,879.50 L77.14,879.50 L78.21,879.50 L79.28,879.50 L80.35,879.50 L81.42,879.50 L82.49,879.50 L83.56,879.50 L84.63,879.50 L85.70,879.50 L86.78,879.50 L87.85,879.50 L88.92,879.50 L89.99,879.50 L91.06,879.50 L92.13,879.50 L93.20,879.50 L94.27,879.50 L95.34,879.50 L96.41,879.50 L97.48,879.50 L98.56,879.50 L99.63,879.50 L100.70,879.50 L101.77,879.50 L102.84,879.50 L103.91,879.50 L104.98,879.50 L106.05,879.50 L107.12,879.50 L108.19,879.50 L109.27,879.50 L110.34,879.50 L111.41,879.50 L112.48,879.50 L113.55,879.50 L114.62,879.50 L115.69,879.50 L116.76,879.50 L117.83,879.50 L118.91,879.50 L119.98,879.50 L121.05,879.50 L122.12,879.50 L123.19,879.50 L124.26,879.50 L125.33,879.50 L126.40,879.50 L127.47,879.50 L128.54,879.50 L129.62,879.50 L130.69,879.50 L131.76,879.50 L132.83,879.50 L133.90,879.50 L134.97,879.50 L136.04,879.50 L137.11,879.50 L138.18,879.50 L139.25,879.50 L140.32,879.50 L141.40,879.50 L142.47,879.50 L143.54,879.50 L144.61,879.50 L145.68,879.50 L146.75,879.50 L147.82,879.50 L148.89,879.50 L149.96,879.50 L151.03,879.50 L152.11,879.50 L153.18,879.50 L154.25,879.50 L155.32,879.50 L156.39,879.50 L157.46,879.50 L158.53,879.50 L159.60,879.50 L160.67,879.50 L161.75,879.50 L162.82,879.50 L163.89,879.50 L164.96,879.50 L166.03,879.50 L167.10,879.50 L168.17,879.50 L169.24,879.50 L170.31,879.48 L171.38,879.16 L172.46,878.56 L173.53,877.83 L174.60,877.12 L175.67,876.57 L176.74,876.28 L177.81,876.07 L178.88,875.89 L179.95,875.73 L181.02,875.58 L182.09,875.46 L183.16,875.34 L184.24,875.22 L185.31,875.10 L186.38,874.97 L187.45,874.83 L188.52,874.68 L189.59,874.54 L190.66,874.40 L191.73,874.27 L192.80,874.15 L193.88,874.04 L194.95,873.96 L196.02,873.90 L197.09,873.86 L198.16,873.82 L199.23,873.80 L200.30,873.77 L201.37,873.75 L202.44,873.73 L203.51,873.71 L204.58,873.69 L205.66,873.66 L206.73,873.62 L207.80,873.58 L208.87,873.52 L209.94,873.45 L211.01,873.36 L212.08,873.27 L213.15,873.16 L214.22,873.05 L215.30,872.93 L216.37,872.81 L217.44,872.68 L218.51,872.52 L219.58,872.31 L220.65,872.07 L221.72,871.83 L222.79,871.58 L223.86,871.36 L224.93,871.18 L226.00,871.05 L227.08,871.00 L228.15,871.00 L229.22,871.00 L230.29,871.00 L231.36,871.00 L232.43,871.00 L233.50,870.99 L234.57,870.94 L235.64,870.85 L236.72,870.71 L237.79,870.55 L238.86,870.35 L239.93,870.13 L241.00,869.90 L242.07,869.66 L243.14,869.42 L244.21,869.17 L245.28,868.94 L246.35,868.70 L247.43,868.44 L248.50,868.17 L249.57,867.88 L250.64,867.58 L251.71,867.26 L252.78,866.92 L253.85,866.56 L254.92,866.19 L255.99,865.79 L257.06,865.38 L258.13,864.94 L259.21,864.46 L260.28,863.91 L261.35,863.30 L262.42,862.66 L263.49,861.98 L264.56,861.28 L265.63,860.56 L266.70,859.85 L267.77,859.15 L268.85,858.45 L269.92,857.76 L270.99,857.07 L272.06,856.36 L273.13,855.63 L274.20,854.89 L275.27,854.12 L276.34,853.32 L277.41,852.48 L278.48,851.60 L279.56,850.69 L280.63,849.74 L281.70,848.75 L282.77,847.72 L283.84,846.65 L284.91,845.53 L285.98,844.36 L287.05,843.13 L288.12,841.85 L289.19,840.51 L290.26,839.10 L291.34,837.58 L292.41,835.89 L293.48,834.00 L294.55,831.78 L295.62,828.87 L296.69,825.64 L297.76,822.60 L298.83,820.09 L299.90,817.89 L300.98,815.82 L302.05,813.68 L303.12,811.29 L304.19,808.46 L305.26,804.94 L306.33,800.80 L307.40,796.15 L308.47,790.58 L309.54,785.59 L310.61,781.08 L311.69,776.82 L312.76,772.70 L313.83,768.65 L314.90,764.59 L315.97,760.54 L317.04,756.63 L318.11,752.97 L319.18,749.66 L320.25,746.59 L321.32,743.72 L322.39,741.05 L323.47,738.59 L324.54,736.12 L325.61,733.48 L326.68,731.01 L327.75,729.04 L328.82,727.93 L329.89,727.89 L330.96,728.50 L332.03,729.56 L333.11,730.96 L334.18,732.58 L335.25,734.30 L336.32,736.02 L337.39,738.00 L338.46,740.35 L339.53,743.05 L340.60,746.09 L341.67,749.73 L342.74,754.37 L343.81,759.48 L344.89,764.49 L345.96,769.23 L347.03,773.99 L348.10,778.73 L349.17,783.42 L350.24,788.03 L351.31,792.69 L352.38,797.35 L353.45,801.84 L354.52,806.00 L355.60,809.73 L356.67,813.22 L357.74,816.47 L358.81,819.45 L359.88,822.13 L360.95,824.49 L362.02,826.63 L363.09,828.66 L364.16,830.73 L365.24,832.92 L366.31,835.18 L367.38,837.38 L368.45,839.38 L369.52,841.10 L370.59,842.68 L371.66,844.16 L372.73,845.56 L373.80,846.88 L374.87,848.15 L375.94,849.38 L377.02,850.58 L378.09,851.76 L379.16,852.96 L380.23,854.15 L381.30,855.34 L382.37,856.50 L383.44,857.62 L384.51,858.68 L385.58,859.66 L386.65,860.54 L387.73,861.32 L388.80,862.01 L389.87,862.65 L390.94,863.26 L392.01,863.82 L393.08,864.34 L394.15,864.84 L395.22,865.30 L396.29,865.73 L397.37,866.14 L398.44,866.53 L399.51,866.92 L400.58,867.30 L401.65,867.67 L402.72,868.03 L403.79,868.37 L404.86,868.70 L405.93,869.02 L407.00,869.32 L408.07,869.60 L409.15,869.87 L410.22,870.11 L411.29,870.34 L412.36,870.54 L413.43,870.72 L414.50,870.89 L415.57,871.04 L416.64,871.18 L417.71,871.31 L418.78,871.43 L419.86,871.54 L420.93,871.65 L422.00,871.74 L423.07,871.83 L424.14,871.91 L425.21,871.99 L426.28,872.06 L427.35,872.13 L428.42,872.20 L429.50,872.26 L430.57,872.32 L431.64,872.37 L432.71,872.43 L433.78,872.48 L434.85,872.52 L435.92,872.57 L436.99,872.60 L438.06,872.63 L439.13,872.66 L440.20,872.69 L441.28,872.72 L442.35,872.74 L443.42,872.78 L444.49,872.81 L445.56,872.85 L446.63,872.90 L447.70,872.96 L448.77,873.04 L449.84,873.18 L450.92,873.39 L451.99,873.63 L453.06,873.89 L454.13,874.14 L455.20,874.37 L456.27,874.54 L457.34,874.69 L458.41,874.83 L459.48,874.96 L460.55,875.09 L461.62,875.21 L462.70,875.32 L463.77,875.44 L464.84,875.55 L465.91,875.66 L466.98,875.76 L468.05,875.87 L469.12,875.98 L470.19,876.09 L471.26,876.20 L472.34,876.31 L473.41,876.41 L474.48,876.52 L475.55,876.62 L476.62,876.72 L477.69,876.82 L478.76,876.92 L479.83,877.02 L480.90,877.13 L481.97,877.23 L483.04,877.33 L484.12,877.45 L485.19,877.57 L486.26,877.70 L487.33,877.83 L488.40,877.97 L489.47,878.10 L490.54,878.24 L491.61,878.37 L492.68,878.49 L493.75,878.60 L494.83,878.71 L495.90,878.80 L496.97,878.88 L498.04,878.94 L499.11,878.98 L500.18,879.00 L501.25,879.02 L502.32,879.03 L503.39,879.04 L504.47,879.05 L505.54,879.07 L506.61,879.08 L507.68,879.09 L508.75,879.10 L509.82,879.11 L510.89,879.13 L511.96,879.14 L513.03,879.15 L514.10,879.16 L515.17,879.17 L516.25,879.18 L517.32,879.19 L518.39,879.20 L519.46,879.21 L520.53,879.22 L521.60,879.23 L522.67,879.24 L523.74,879.25 L524.81,879.25 L525.88,879.26 L526.96,879.27 L528.03,879.28 L529.10,879.29 L530.17,879.30 L531.24,879.30 L532.31,879.31 L533.38,879.32 L534.45,879.32 L535.52,879.33 L536.60,879.34 L537.67,879.35 L538.74,879.35 L539.81,879.36 L540.88,879.36 L541.95,879.37 L543.02,879.38 L544.09,879.38 L545.16,879.39 L546.23,879.39 L547.31,879.40 L548.38,879.40 L549.45,879.41 L550.52,879.41 L551.59,879.42 L552.66,879.42 L553.73,879.43 L554.80,879.43 L555.87,879.43 L556.94,879.44 L558.01,879.44 L559.09,879.45 L560.16,879.45 L561.23,879.45 L562.30,879.46 L563.37,879.46 L564.44,879.46 L565.51,879.46 L566.58,879.47 L567.65,879.47 L568.73,879.47 L569.80,879.47 L570.87,879.48 L571.94,879.48 L573.01,879.48 L574.08,879.48 L575.15,879.48 L576.22,879.49 L577.29,879.49 L578.36,879.49 L579.43,879.49 L580.51,879.49 L581.58,879.49 L582.65,879.49 L583.72,879.50 L584.79,879.50 L585.86,879.50 L586.93,879.50 L588.00,879.50 L589.07,879.50 L590.14,879.50 L591.22,879.50 L592.29,879.50 L593.36,879.50 L594.43,879.50 L595.50,879.50" fill="none" stroke="#000" stroke-width="1.3" stroke-dasharray="14.5 10.35 2 10.05" stroke-dashoffset="34.62" stroke-linecap="butt"/>
<path d="M60.00,879.50 L61.07,879.50 L62.14,879.50 L63.21,879.50 L64.28,879.50 L65.36,879.50 L66.43,879.50 L67.50,879.50 L68.57,879.50 L69.64,879.50 L70.71,879.50 L71.78,879.50 L72.85,879.50 L73.92,879.50 L74.99,879.50 L76.06,879.50 L77.14,879.50 L78.21,879.50 L79.28,879.49 L80.35,879.49 L81.42,879.49 L82.49,879.49 L83.56,879.49 L84.63,879.49 L85.70,879.49 L86.78,879.49 L87.85,879.49 L88.92,879.49 L89.99,879.48 L91.06,879.48 L92.13,879.48 L93.20,879.48 L94.27,879.48 L95.34,879.48 L96.41,879.48 L97.48,879.47 L98.56,879.47 L99.63,879.47 L100.70,879.47 L101.77,879.47 L102.84,879.46 L103.91,879.46 L104.98,879.46 L106.05,879.46 L107.12,879.45 L108.19,879.45 L109.27,879.45 L110.34,879.45 L111.41,879.44 L112.48,879.44 L113.55,879.44 L114.62,879.43 L115.69,879.43 L116.76,879.43 L117.83,879.42 L118.91,879.42 L119.98,879.42 L121.05,879.41 L122.12,879.41 L123.19,879.41 L124.26,879.40 L125.33,879.40 L126.40,879.39 L127.47,879.39 L128.54,879.38 L129.62,879.38 L130.69,879.38 L131.76,879.37 L132.83,879.37 L133.90,879.36 L134.97,879.36 L136.04,879.35 L137.11,879.34 L138.18,879.34 L139.25,879.33 L140.32,879.33 L141.40,879.32 L142.47,879.32 L143.54,879.31 L144.61,879.30 L145.68,879.28 L146.75,879.20 L147.82,879.07 L148.89,878.88 L149.96,878.64 L151.03,878.37 L152.11,878.06 L153.18,877.73 L154.25,877.37 L155.32,876.99 L156.39,876.61 L157.46,876.22 L158.53,875.84 L159.60,875.45 L160.67,875.02 L161.75,874.53 L162.82,873.98 L163.89,873.40 L164.96,872.79 L166.03,872.15 L167.10,871.51 L168.17,870.86 L169.24,870.21 L170.31,869.59 L171.38,868.99 L172.46,868.42 L173.53,867.89 L174.60,867.37 L175.67,866.84 L176.74,866.31 L177.81,865.78 L178.88,865.27 L179.95,864.78 L181.02,864.33 L182.09,863.91 L183.16,863.54 L184.24,863.22 L185.31,862.95 L186.38,862.69 L187.45,862.43 L188.52,862.19 L189.59,861.96 L190.66,861.76 L191.73,861.60 L192.80,861.48 L193.88,861.41 L194.95,861.40 L196.02,861.46 L197.09,861.57 L198.16,861.72 L199.23,861.92 L200.30,862.14 L201.37,862.38 L202.44,862.63 L203.51,862.88 L204.58,863.12 L205.66,863.39 L206.73,863.72 L207.80,864.09 L208.87,864.48 L209.94,864.88 L211.01,865.27 L212.08,865.64 L213.15,865.96 L214.22,866.24 L215.30,866.44 L216.37,866.56 L217.44,866.67 L218.51,866.78 L219.58,866.88 L220.65,866.97 L221.72,867.06 L222.79,867.13 L223.86,867.20 L224.93,867.26 L226.00,867.31 L227.08,867.35 L228.15,867.38 L229.22,867.40 L230.29,867.40 L231.36,867.36 L232.43,867.29 L233.50,867.18 L234.57,867.04 L235.64,866.87 L236.72,866.68 L237.79,866.47 L238.86,866.25 L239.93,866.02 L241.00,865.74 L242.07,865.36 L243.14,864.90 L244.21,864.38 L245.28,863.80 L246.35,863.18 L247.43,862.54 L248.50,861.90 L249.57,861.25 L250.64,860.62 L251.71,859.97 L252.78,859.29 L253.85,858.59 L254.92,857.85 L255.99,857.09 L257.06,856.31 L258.13,855.49 L259.21,854.65 L260.28,853.77 L261.35,852.82 L262.42,851.79 L263.49,850.70 L264.56,849.58 L265.63,848.44 L266.70,847.30 L267.77,846.18 L268.85,845.10 L269.92,844.08 L270.99,843.11 L272.06,842.16 L273.13,841.24 L274.20,840.33 L275.27,839.43 L276.34,838.55 L277.41,837.68 L278.48,836.81 L279.56,835.96 L280.63,835.11 L281.70,834.32 L282.77,833.57 L283.84,832.84 L284.91,832.10 L285.98,831.35 L287.05,830.56 L288.12,829.70 L289.19,828.77 L290.26,827.73 L291.34,826.58 L292.41,825.30 L293.48,823.88 L294.55,822.33 L295.62,820.64 L296.69,818.76 L297.76,816.60 L298.83,814.18 L299.90,811.56 L300.98,808.77 L302.05,805.87 L303.12,802.83 L304.19,799.59 L305.26,796.12 L306.33,792.39 L307.40,788.38 L308.47,784.02 L309.54,779.07 L310.61,773.61 L311.69,767.77 L312.76,761.50 L313.83,754.56 L314.90,747.33 L315.97,740.20 L317.04,732.80 L318.11,725.61 L319.18,720.44 L320.25,716.86 L321.32,713.77 L322.39,710.29 L323.47,705.71 L324.54,701.59 L325.00,700.50 L325.61,699.89 L326.68,698.82 L327.75,697.75 L328.82,696.68 L329.89,695.61 L330.50,695.00 L330.96,696.16 L332.03,698.84 L332.50,700.00 L333.11,701.38 L334.18,703.83 L335.25,706.28 L336.00,708.00 L336.32,708.90 L337.39,712.22 L338.46,715.96 L339.53,720.09 L340.60,724.59 L341.67,729.64 L342.74,735.55 L343.81,741.95 L344.89,749.45 L345.96,757.46 L347.03,764.91 L348.10,770.75 L349.17,775.38 L350.24,779.58 L351.31,783.40 L352.38,786.91 L353.45,790.17 L354.52,793.23 L355.60,796.16 L356.67,799.02 L357.74,801.85 L358.81,804.59 L359.88,807.22 L360.95,809.74 L362.02,812.16 L363.09,814.49 L364.16,816.73 L365.24,818.88 L366.31,820.96 L367.38,822.96 L368.45,824.91 L369.52,826.82 L370.59,828.67 L371.66,830.46 L372.73,832.20 L373.80,833.88 L374.87,835.51 L375.94,837.07 L377.02,838.58 L378.09,840.02 L379.16,841.42 L380.23,842.79 L381.30,844.14 L382.37,845.45 L383.44,846.73 L384.51,847.95 L385.58,849.12 L386.65,850.23 L387.73,851.26 L388.80,852.22 L389.87,853.10 L390.94,853.91 L392.01,854.70 L393.08,855.46 L394.15,856.19 L395.22,856.89 L396.29,857.56 L397.37,858.19 L398.44,858.79 L399.51,859.36 L400.58,859.89 L401.65,860.37 L402.72,860.82 L403.79,861.23 L404.86,861.60 L405.93,861.95 L407.00,862.30 L408.07,862.62 L409.15,862.94 L410.22,863.23 L411.29,863.51 L412.36,863.77 L413.43,864.01 L414.50,864.23 L415.57,864.43 L416.64,864.61 L417.71,864.76 L418.78,864.90 L419.86,865.04 L420.93,865.17 L422.00,865.30 L423.07,865.42 L424.14,865.54 L425.21,865.64 L426.28,865.74 L427.35,865.82 L428.42,865.89 L429.50,865.95 L430.57,865.98 L431.64,866.00 L432.71,865.97 L433.78,865.82 L434.85,865.58 L435.92,865.28 L436.99,864.93 L438.06,864.57 L439.13,864.24 L440.20,863.95 L441.28,863.67 L442.35,863.37 L443.42,863.07 L444.49,862.77 L445.56,862.48 L446.63,862.19 L447.70,861.92 L448.77,861.67 L449.84,861.45 L450.92,861.26 L451.99,861.08 L453.06,860.90 L454.13,860.72 L455.20,860.55 L456.27,860.39 L457.34,860.26 L458.41,860.14 L459.48,860.06 L460.55,860.01 L461.62,860.00 L462.70,860.07 L463.77,860.21 L464.84,860.42 L465.91,860.68 L466.98,860.98 L468.05,861.32 L469.12,861.68 L470.19,862.06 L471.26,862.44 L472.34,862.82 L473.41,863.26 L474.48,863.78 L475.55,864.35 L476.62,864.97 L477.69,865.63 L478.76,866.31 L479.83,867.00 L480.90,867.68 L481.97,868.36 L483.04,869.01 L484.12,869.70 L485.19,870.43 L486.26,871.18 L487.33,871.94 L488.40,872.68 L489.47,873.40 L490.54,874.08 L491.61,874.70 L492.68,875.23 L493.75,875.68 L494.83,876.12 L495.90,876.54 L496.97,876.95 L498.04,877.33 L499.11,877.68 L500.18,878.00 L501.25,878.27 L502.32,878.48 L503.39,878.64 L504.47,878.74 L505.54,878.82 L506.61,878.89 L507.68,878.96 L508.75,879.02 L509.82,879.07 L510.89,879.11 L511.96,879.15 L513.03,879.17 L514.10,879.19 L515.17,879.20 L516.25,879.21 L517.32,879.22 L518.39,879.23 L519.46,879.24 L520.53,879.25 L521.60,879.26 L522.67,879.27 L523.74,879.27 L524.81,879.28 L525.88,879.29 L526.96,879.30 L528.03,879.30 L529.10,879.31 L530.17,879.32 L531.24,879.32 L532.31,879.33 L533.38,879.34 L534.45,879.34 L535.52,879.35 L536.60,879.36 L537.67,879.36 L538.74,879.37 L539.81,879.37 L540.88,879.38 L541.95,879.38 L543.02,879.39 L544.09,879.39 L545.16,879.40 L546.23,879.40 L547.31,879.41 L548.38,879.41 L549.45,879.42 L550.52,879.42 L551.59,879.43 L552.66,879.43 L553.73,879.43 L554.80,879.44 L555.87,879.44 L556.94,879.44 L558.01,879.45 L559.09,879.45 L560.16,879.45 L561.23,879.46 L562.30,879.46 L563.37,879.46 L564.44,879.47 L565.51,879.47 L566.58,879.47 L567.65,879.47 L568.73,879.48 L569.80,879.48 L570.87,879.48 L571.94,879.48 L573.01,879.48 L574.08,879.48 L575.15,879.49 L576.22,879.49 L577.29,879.49 L578.36,879.49 L579.43,879.49 L580.51,879.49 L581.58,879.49 L582.65,879.49 L583.72,879.50 L584.79,879.50 L585.86,879.50 L586.93,879.50 L588.00,879.50 L589.07,879.50 L590.14,879.50 L591.22,879.50 L592.29,879.50 L593.36,879.50 L594.43,879.50 L595.50,879.50" fill="none" stroke="#000" stroke-width="2.5" stroke-linejoin="round"/>
<path d="M60.00,879.08 L62.14,879.05 L64.28,879.03 L66.43,879.01 L68.57,878.99 L70.71,878.96 L72.85,878.93 L74.99,878.91 L77.14,878.88 L79.28,878.85 L81.42,878.82 L83.56,878.78 L85.70,878.75 L87.85,878.71 L89.99,878.67 L92.13,878.63 L94.27,878.59 L96.41,878.55 L98.56,878.50 L100.70,878.45 L102.84,878.40 L104.98,878.35 L107.12,878.29 L109.27,878.23 L111.41,878.17 L113.55,878.11 L115.69,878.04 L117.83,877.97 L119.98,877.90 L122.12,877.82 L124.26,877.74 L126.40,877.66 L128.54,877.57 L130.69,877.48 L132.83,877.38 L134.97,877.28 L137.11,877.18 L139.25,877.07 L141.40,876.95 L143.54,876.83 L145.68,876.71 L147.82,876.57 L149.96,876.43 L152.11,876.29 L154.25,876.14 L156.39,875.98 L158.53,875.81 L160.67,875.64 L162.82,875.46 L164.96,875.27 L167.10,875.07 L169.24,874.86 L171.38,874.64 L173.53,874.42 L175.67,874.18 L177.81,873.93 L179.95,873.67 L182.09,873.39 L184.24,873.11 L186.38,872.81 L188.52,872.50 L190.66,872.17 L192.80,871.83 L194.95,871.47 L197.09,871.10 L199.23,870.70 L201.37,870.29 L203.51,869.86 L205.66,869.42 L207.80,868.95 L209.94,868.45 L212.08,867.94 L214.22,867.40 L216.37,866.84 L218.51,866.24 L220.65,865.63 L222.79,864.98 L224.93,864.30 L227.08,863.59 L229.22,862.85 L231.36,862.07 L233.50,861.25 L235.64,860.39 L237.79,859.50 L239.93,858.56 L242.07,857.57 L244.21,856.53 L246.35,855.45 L248.50,854.31 L250.64,853.11 L252.78,851.85 L254.92,850.53 L257.06,849.14 L259.21,847.68 L261.35,846.14 L263.49,844.52 L265.63,842.82 L267.77,841.02 L269.92,839.12 L272.06,837.11 L274.20,834.99 L276.34,832.75 L278.48,830.37 L280.63,827.84 L282.77,825.16 L284.91,822.31 L285.12,822.01 L285.34,821.72 L285.55,821.42 L285.77,821.11 L285.98,820.81 L286.20,820.51 L286.41,820.20 L286.62,819.89 L286.84,819.58 L287.05,819.27 L287.27,818.95 L287.48,818.63 L287.69,818.31 L287.91,817.99 L288.12,817.67 L288.34,817.34 L288.55,817.01 L288.77,816.68 L288.98,816.35 L289.19,816.01 L289.41,815.68 L289.62,815.34 L289.84,814.99 L290.05,814.65 L290.26,814.30 L290.48,813.95 L290.69,813.60 L290.91,813.25 L291.12,812.89 L291.34,812.53 L291.55,812.17 L291.76,811.80 L291.98,811.44 L292.19,811.07 L292.41,810.69 L292.62,810.32 L292.84,809.94 L293.05,809.56 L293.26,809.18 L293.48,808.79 L293.69,808.40 L293.91,808.01 L294.12,807.61 L294.33,807.22 L294.55,806.81 L294.76,806.41 L294.98,806.00 L295.19,805.59 L295.41,805.18 L295.62,804.76 L295.83,804.34 L296.05,803.92 L296.26,803.49 L296.48,803.06 L296.69,802.63 L296.91,802.19 L297.12,801.75 L297.33,801.31 L297.55,800.86 L297.76,800.41 L297.98,799.95 L298.19,799.49 L298.40,799.03 L298.62,798.56 L298.83,798.09 L299.05,797.62 L299.26,797.14 L299.48,796.66 L299.69,796.17 L299.90,795.68 L300.12,795.18 L300.33,794.68 L300.55,794.18 L300.76,793.67 L300.98,793.16 L301.19,792.64 L301.40,792.12 L301.62,791.59 L301.83,791.06 L302.05,790.52 L302.26,789.98 L302.47,789.43 L302.69,788.88 L302.90,788.32 L303.12,787.76 L303.33,787.19 L303.55,786.62 L303.76,786.04 L303.97,785.45 L304.19,784.86 L304.40,784.27 L304.62,783.66 L304.83,783.05 L305.04,782.44 L305.26,781.82 L305.47,781.19 L305.69,780.56 L305.90,779.92 L306.12,779.27 L306.33,778.62 L306.54,777.95 L306.76,777.29 L306.97,776.61 L307.19,775.93 L307.40,775.24 L307.62,774.54 L307.83,773.83 L308.04,773.12 L308.26,772.39 L308.47,771.66 L308.69,770.92 L308.90,770.17 L309.11,769.42 L309.33,768.65 L309.54,767.87 L309.76,767.09 L309.97,766.29 L310.19,765.49 L310.40,764.67 L310.61,763.85 L310.83,763.01 L311.04,762.16 L311.26,761.31 L311.47,760.44 L311.69,759.55 L311.90,758.66 L312.11,757.75 L312.33,756.84 L312.54,755.90 L312.76,754.96 L312.97,754.00 L313.18,753.03 L313.40,752.04 L313.61,751.04 L313.83,750.02 L314.04,748.99 L314.26,747.94 L314.47,746.88 L314.68,745.80 L314.90,744.70 L315.11,743.58 L315.33,742.44 L315.54,741.29 L315.75,740.12 L315.97,738.92 L316.18,737.71 L316.40,736.47 L316.61,735.21 L316.83,733.93 L317.04,732.62 L317.25,731.29 L317.47,729.93 L317.68,728.55 L317.90,727.14 L318.11,725.70 L318.33,724.23 L318.54,722.73 L318.75,721.20 L318.97,719.64 L319.18,718.04 L319.40,716.41 L319.61,714.74 L319.82,713.03 L320.04,711.28 L320.25,709.49 L320.47,707.66 L320.68,705.78 L320.90,703.85 L321.11,701.87 L321.32,699.84 L321.54,697.75 L321.75,695.60 L321.97,693.40 L322.18,691.12 L322.39,688.79 L322.61,686.38 L322.82,683.89 L323.04,681.32 L323.25,678.67 L323.47,675.93 L323.68,673.10 L323.89,670.16 L324.11,667.12 L324.32,663.96 L324.54,660.68 L324.75,657.26 L324.97,653.71 L325.18,650.00 L325.39,646.12 L325.61,642.07 L325.82,637.83 L326.04,633.38 L326.25,628.70 L326.46,623.78 L326.68,618.58 L326.89,613.08 L327.11,607.25 L327.32,601.07 L327.54,594.49 L327.75,587.50 L327.96,594.49 L328.18,601.07 L328.39,607.25 L328.61,613.08 L328.82,618.58 L329.04,623.78 L329.25,628.70 L329.46,633.38 L329.68,637.83 L329.89,642.07 L330.11,646.12 L330.32,650.00 L330.53,653.71 L330.75,657.26 L330.96,660.68 L331.18,663.96 L331.39,667.12 L331.61,670.16 L331.82,673.10 L332.03,675.93 L332.25,678.67 L332.46,681.32 L332.68,683.89 L332.89,686.38 L333.11,688.79 L333.32,691.12 L333.53,693.40 L333.75,695.60 L333.96,697.75 L334.18,699.84 L334.39,701.87 L334.60,703.85 L334.82,705.78 L335.03,707.66 L335.25,709.49 L335.46,711.28 L335.68,713.03 L335.89,714.74 L336.10,716.41 L336.32,718.04 L336.53,719.64 L336.75,721.20 L336.96,722.73 L337.17,724.23 L337.39,725.70 L337.60,727.14 L337.82,728.55 L338.03,729.93 L338.25,731.29 L338.46,732.62 L338.67,733.93 L338.89,735.21 L339.10,736.47 L339.32,737.71 L339.53,738.92 L339.75,740.12 L339.96,741.29 L340.17,742.44 L340.39,743.58 L340.60,744.70 L340.82,745.80 L341.03,746.88 L341.24,747.94 L341.46,748.99 L341.67,750.02 L341.89,751.04 L342.10,752.04 L342.32,753.03 L342.53,754.00 L342.74,754.96 L342.96,755.90 L343.17,756.84 L343.39,757.75 L343.60,758.66 L343.81,759.55 L344.03,760.44 L344.24,761.31 L344.46,762.16 L344.67,763.01 L344.89,763.85 L345.10,764.67 L345.31,765.49 L345.53,766.29 L345.74,767.09 L345.96,767.87 L346.17,768.65 L346.39,769.42 L346.60,770.17 L346.81,770.92 L347.03,771.66 L347.24,772.39 L347.46,773.12 L347.67,773.83 L347.88,774.54 L348.10,775.24 L348.31,775.93 L348.53,776.61 L348.74,777.29 L348.96,777.95 L349.17,778.62 L349.38,779.27 L349.60,779.92 L349.81,780.56 L350.03,781.19 L350.24,781.82 L350.46,782.44 L350.67,783.05 L350.88,783.66 L351.10,784.27 L351.31,784.86 L351.53,785.45 L351.74,786.04 L351.95,786.62 L352.17,787.19 L352.38,787.76 L352.60,788.32 L352.81,788.88 L353.03,789.43 L353.24,789.98 L353.45,790.52 L353.67,791.06 L353.88,791.59 L354.10,792.12 L354.31,792.64 L354.52,793.16 L354.74,793.67 L354.95,794.18 L355.17,794.68 L355.38,795.18 L355.60,795.68 L355.81,796.17 L356.02,796.66 L356.24,797.14 L356.45,797.62 L356.67,798.09 L356.88,798.56 L357.10,799.03 L357.31,799.49 L357.52,799.95 L357.74,800.41 L357.95,800.86 L358.17,801.31 L358.38,801.75 L358.59,802.19 L358.81,802.63 L359.02,803.06 L359.24,803.49 L359.45,803.92 L359.67,804.34 L359.88,804.76 L360.09,805.18 L360.31,805.59 L360.52,806.00 L360.74,806.41 L360.95,806.81 L361.17,807.22 L361.38,807.61 L361.59,808.01 L361.81,808.40 L362.02,808.79 L362.24,809.18 L362.45,809.56 L362.66,809.94 L362.88,810.32 L363.09,810.69 L363.31,811.07 L363.52,811.44 L363.74,811.80 L363.95,812.17 L364.16,812.53 L364.38,812.89 L364.59,813.25 L364.81,813.60 L365.02,813.95 L365.24,814.30 L365.45,814.65 L365.66,814.99 L365.88,815.34 L366.09,815.68 L366.31,816.01 L366.52,816.35 L366.73,816.68 L366.95,817.01 L367.16,817.34 L367.38,817.67 L367.59,817.99 L367.81,818.31 L368.02,818.63 L368.23,818.95 L368.45,819.27 L368.66,819.58 L368.88,819.89 L369.09,820.20 L369.30,820.51 L369.52,820.81 L369.73,821.11 L369.95,821.42 L370.16,821.72 L370.38,822.01 L370.59,822.31 L372.73,825.16 L374.87,827.84 L377.02,830.37 L379.16,832.75 L381.30,834.99 L383.44,837.11 L385.58,839.12 L387.73,841.02 L389.87,842.82 L392.01,844.52 L394.15,846.14 L396.29,847.68 L398.44,849.14 L400.58,850.53 L402.72,851.85 L404.86,853.11 L407.00,854.31 L409.15,855.45 L411.29,856.53 L413.43,857.57 L415.57,858.56 L417.71,859.50 L419.86,860.39 L422.00,861.25 L424.14,862.07 L426.28,862.85 L428.42,863.59 L430.57,864.30 L432.71,864.98 L434.85,865.63 L436.99,866.24 L439.13,866.84 L441.28,867.40 L443.42,867.94 L445.56,868.45 L447.70,868.95 L449.84,869.42 L451.99,869.86 L454.13,870.29 L456.27,870.70 L458.41,871.10 L460.55,871.47 L462.70,871.83 L464.84,872.17 L466.98,872.50 L469.12,872.81 L471.26,873.11 L473.41,873.39 L475.55,873.67 L477.69,873.93 L479.83,874.18 L481.97,874.42 L484.12,874.64 L486.26,874.86 L488.40,875.07 L490.54,875.27 L492.68,875.46 L494.83,875.64 L496.97,875.81 L499.11,875.98 L501.25,876.14 L503.39,876.29 L505.54,876.43 L507.68,876.57 L509.82,876.71 L511.96,876.83 L514.10,876.95 L516.25,877.07 L518.39,877.18 L520.53,877.28 L522.67,877.38 L524.81,877.48 L526.96,877.57 L529.10,877.66 L531.24,877.74 L533.38,877.82 L535.52,877.90 L537.67,877.97 L539.81,878.04 L541.95,878.11 L544.09,878.17 L546.23,878.23 L548.38,878.29 L550.52,878.35 L552.66,878.40 L554.80,878.45 L556.94,878.50 L559.09,878.55 L561.23,878.59 L563.37,878.63 L565.51,878.67 L567.65,878.71 L569.80,878.75 L571.94,878.78 L574.08,878.82 L576.22,878.85 L578.36,878.88 L580.51,878.91 L582.65,878.93 L584.79,878.96 L586.93,878.99 L589.07,879.01 L591.22,879.03 L593.36,879.05 L595.50,879.08" fill="none" stroke="#2418c4" stroke-width="1.35" stroke-linejoin="round"/>
<g>
<text x="100.50 125.50" y="41.6" font-size="18.5">SN</text>
<text x="170.09" y="41.6" font-size="18.5" transform="scale(1.08,1)">0</text>
<text x="100.20" y="89.6" font-size="16">σ</text>
<text x="97.77" y="95.5" font-size="14" transform="scale(1.12,1)">0</text>
<text x="136.98 147.83 157.26" y="89.8" font-size="17.5" transform="scale(1.06,1)">332</text>
<text x="180.80 222.90 233.70 271.80" y="88.0" font-size="14">(,+)</text>
<text x="176.70 184.46 191.96 216.87 232.32" y="88.0" font-size="14" transform="scale(1.12,1)">22229</text>
<text x="99.60" y="114.9" font-size="17.5">h</text>
<text x="96.96" y="121.2" font-size="14" transform="scale(1.12,1)">4</text>
<text x="136.60 151.70" y="115.0" font-size="17.5" transform="scale(1.06,1)">04</text>
<text x="153.20" y="115.0" font-size="17.5">.</text>
<text x="186.00 209.50 231.70 242.20 260.50 283.50" y="113.4" font-size="14">(.,+.)</text>
<text x="181.07 192.50 200.89 226.34 238.21 246.61" y="113.4" font-size="14" transform="scale(1.12,1)">039037</text>
<text x="4.90 15.50 24.90 34.60" y="155.3" font-size="18.5">N(V)</text>
<text x="100.50 125.50" y="333.6" font-size="18.5">SN</text>
<text x="159.26 170.09" y="333.6" font-size="18.5" transform="scale(1.08,1)">20</text>
<text x="100.20" y="381.6" font-size="16">σ</text>
<text x="97.77" y="387.5" font-size="14" transform="scale(1.12,1)">0</text>
<text x="146.98" y="381.8" font-size="17.5" transform="scale(1.06,1)">2</text>
<text x="181.50 214.50 225.30 252.70" y="380.0" font-size="14">(,+)</text>
<text x="176.79 184.20 216.96" y="380.0" font-size="14" transform="scale(1.12,1)">526</text>
<text x="99.60" y="406.9" font-size="17.5">h</text>
<text x="96.96" y="413.2" font-size="14" transform="scale(1.12,1)">4</text>
<text x="137.45 162.26" y="407.0" font-size="17.5" transform="scale(1.06,1)">06</text>
<text x="154.30" y="407.0" font-size="17.5">.</text>
<text x="186.40 209.40 230.50 241.50 260.70 284.00" y="405.4" font-size="14">(.,+.)</text>
<text x="180.80 199.20 227.05 239.73 247.14" y="405.4" font-size="14" transform="scale(1.12,1)">09022</text>
<text x="4.90 15.50 24.90 34.60" y="447.3" font-size="18.5">N(V)</text>
<text x="100.50 125.50" y="625.6" font-size="18.5">SN</text>
<text x="159.26 170.09" y="625.6" font-size="18.5" transform="scale(1.08,1)">40</text>
<text x="100.20" y="673.6" font-size="16">σ</text>
<text x="97.77" y="679.5" font-size="14" transform="scale(1.12,1)">0</text>
<text x="147.17 156.89" y="673.8" font-size="17.5" transform="scale(1.06,1)">30</text>
<text x="180.50 214.30 225.40 253.00" y="672.0" font-size="14">(,+)</text>
<text x="176.96 183.93 209.82 216.96" y="672.0" font-size="14" transform="scale(1.12,1)">2222</text>
<text x="99.60" y="698.9" font-size="17.5">h</text>
<text x="96.96" y="705.2" font-size="14" transform="scale(1.12,1)">4</text>
<text x="136.98 161.51" y="699.0" font-size="17.5" transform="scale(1.06,1)">08</text>
<text x="153.30" y="699.0" font-size="17.5">.</text>
<text x="185.50 209.50 231.20 242.00 260.60 283.80" y="697.4" font-size="14">(.,+.)</text>
<text x="180.89 192.50 200.45 226.61 238.84 246.87" y="697.4" font-size="14" transform="scale(1.12,1)">008007</text>
<text x="4.90 15.50 24.90 34.60" y="739.3" font-size="18.5">N(V)</text>
<text x="106.02 116.94 127.96 200.46 211.39 222.22 303.15 391.67 402.59 413.52 495.46 506.39 517.41" y="902.8" font-size="18.5" transform="scale(1.08,1)">0005000500000</text>
<text x="289.50 308.00 318.00 331.60 357.80 366.90" y="932.9" font-size="18.5">V[kms]</text>
<path d="M185.00,83.40L193.20,83.40 M190.50,108.80L198.70,108.80 M184.90,375.40L193.10,375.40 M190.10,400.80L198.30,400.80 M184.40,667.40L192.60,667.40 M189.30,692.80L197.50,692.80" stroke="#111" stroke-width="1.25" fill="none"/>
<path d="M107.45,45.50L118.25,26.85 M107.45,337.50L118.25,318.85 M107.45,629.50L118.25,610.85 M84.10,896.70L95.90,896.70 M197.30,896.70L209.10,896.70 M340.50,936.80L351.30,918.15" stroke="#111" stroke-width="1.4" fill="none"/>
<path d="M142.90,34.55L154.90,34.55 M142.90,38.05L154.90,38.05 M123.10,83.00L133.50,83.00 M123.10,86.15L133.50,86.15 M122.60,108.20L133.00,108.20 M122.60,111.35L133.00,111.35 M142.90,326.55L154.90,326.55 M142.90,330.05L154.90,330.05 M123.10,375.00L133.50,375.00 M123.10,378.15L133.50,378.15 M122.60,400.20L133.00,400.20 M122.60,403.35L133.00,403.35 M142.90,618.55L154.90,618.55 M142.90,622.05L154.90,622.05 M123.10,667.00L133.50,667.00 M123.10,670.15L133.50,670.15 M122.60,692.20L133.00,692.20 M122.60,695.35L133.00,695.35" stroke="#111" stroke-width="1.45" fill="none"/>
<path d="M169.20,31.40L172.15,29.00L172.15,41.60 M250.09,80.28L252.32,78.46L252.32,88.00 M170.29,105.35L173.08,103.08L173.08,115.00 M143.69,372.15L146.48,369.88L146.48,381.80 M164.49,372.15L167.28,369.88L167.28,381.80 M232.79,372.28L235.02,370.46L235.02,380.00 M159.79,397.35L162.58,395.08L162.58,407.00 M214.39,397.68L216.62,395.86L216.62,405.40 M143.19,664.15L145.98,661.88L145.98,673.80 M158.99,689.35L161.78,687.08L161.78,699.00 M101.50,892.60L104.45,890.20L104.45,902.80 M522.10,892.60L525.05,890.20L525.05,902.80" stroke="#000" stroke-width="1.35" fill="none" stroke-linejoin="miter"/>
</g>
</svg></body></html>
